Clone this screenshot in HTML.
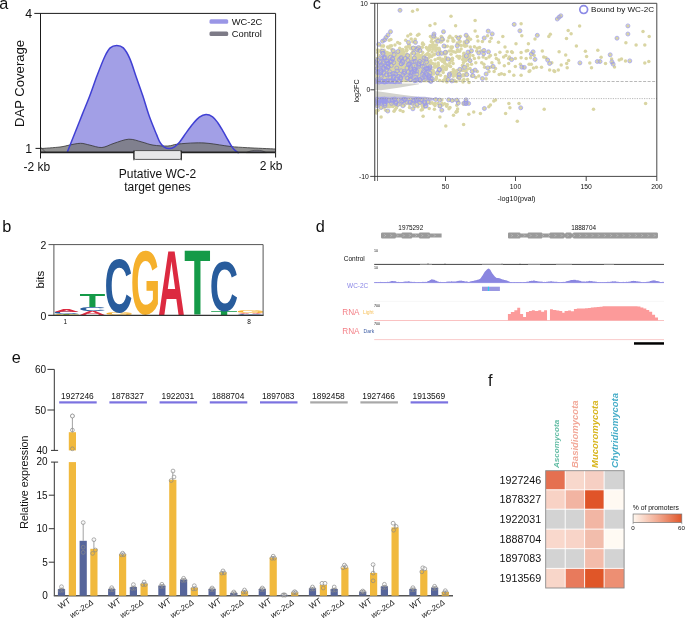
<!DOCTYPE html>
<html><head><meta charset="utf-8"><style>
html,body{margin:0;padding:0;background:#fff;}
svg{display:block;filter:blur(0.3px);font-family:"Liberation Sans", sans-serif;}
</style></head><body>
<svg width="685" height="618" viewBox="0 0 685 618">
<rect width="685" height="618" fill="#fff"/>
<text x="-0.8" y="8.55" font-size="16.3" fill="#111" text-anchor="start" >a</text>
<path d="M67.10,152.60 C68.40,149.33 72.37,139.37 74.90,133.00 C77.43,126.63 79.82,120.60 82.30,114.40 C84.78,108.20 87.32,102.32 89.80,95.80 C92.28,89.28 94.72,81.82 97.20,75.30 C99.68,68.78 102.53,61.27 104.70,56.70 C106.87,52.13 108.20,49.78 110.20,47.90 C112.20,46.02 114.52,45.40 116.70,45.40 C118.88,45.40 121.12,45.70 123.30,47.90 C125.48,50.10 127.63,53.72 129.80,58.60 C131.97,63.48 134.13,71.00 136.30,77.20 C138.47,83.40 140.63,89.28 142.80,95.80 C144.97,102.32 146.98,109.78 149.30,116.30 C151.62,122.82 154.92,130.55 156.70,134.90 C158.48,139.25 158.80,140.42 160.00,142.40 C161.20,144.38 162.37,145.77 163.90,146.80 C165.43,147.83 167.43,148.60 169.20,148.60 C170.97,148.60 172.75,147.90 174.50,146.80 C176.25,145.70 177.73,144.37 179.70,142.00 C181.67,139.63 184.12,135.60 186.30,132.60 C188.48,129.60 190.62,126.58 192.80,124.00 C194.98,121.42 197.20,118.68 199.40,117.10 C201.60,115.52 203.80,114.55 206.00,114.50 C208.20,114.45 210.63,115.43 212.60,116.80 C214.57,118.17 216.05,120.28 217.80,122.70 C219.55,125.12 221.35,128.33 223.10,131.30 C224.85,134.27 226.55,137.55 228.30,140.50 C230.05,143.45 231.85,146.92 233.60,149.00 C235.35,151.08 237.93,152.33 238.80,153.00 Z" fill="#a29fe6"/>
<path d="M40.50,148.60 C43.75,148.33 55.20,147.58 60.00,147.00 C64.80,146.42 65.88,145.72 69.30,145.10 C72.72,144.48 77.08,143.30 80.50,143.30 C83.92,143.30 86.23,144.40 89.80,145.10 C93.37,145.80 97.87,147.80 101.90,147.50 C105.93,147.20 109.52,144.68 114.00,143.30 C118.48,141.92 124.15,139.42 128.80,139.20 C133.45,138.98 137.87,141.02 141.90,142.00 C145.93,142.98 148.67,144.43 153.00,145.10 C157.33,145.77 163.82,146.17 167.90,146.00 C171.98,145.83 172.98,144.62 177.50,144.10 C182.02,143.58 189.75,143.02 195.00,142.90 C200.25,142.78 203.17,142.82 209.00,143.40 C214.83,143.98 223.57,145.68 230.00,146.40 C236.43,147.12 240.00,147.27 247.60,147.70 C255.20,148.13 270.93,148.78 275.60,149.00 L275.6,152.6 L40.5,152.6 Z" fill="rgba(120,120,120,0.8)"/>
<path d="M40.50,148.60 C43.75,148.33 55.20,147.58 60.00,147.00 C64.80,146.42 65.88,145.72 69.30,145.10 C72.72,144.48 77.08,143.30 80.50,143.30 C83.92,143.30 86.23,144.40 89.80,145.10 C93.37,145.80 97.87,147.80 101.90,147.50 C105.93,147.20 109.52,144.68 114.00,143.30 C118.48,141.92 124.15,139.42 128.80,139.20 C133.45,138.98 137.87,141.02 141.90,142.00 C145.93,142.98 148.67,144.43 153.00,145.10 C157.33,145.77 163.82,146.17 167.90,146.00 C171.98,145.83 172.98,144.62 177.50,144.10 C182.02,143.58 189.75,143.02 195.00,142.90 C200.25,142.78 203.17,142.82 209.00,143.40 C214.83,143.98 223.57,145.68 230.00,146.40 C236.43,147.12 240.00,147.27 247.60,147.70 C255.20,148.13 270.93,148.78 275.60,149.00" fill="none" stroke="#333" stroke-width="0.8"/>
<path d="M40.5,147 L46,152.6" stroke="#444" stroke-width="0.7" fill="none"/>
<path d="M246,152.6 C250,151 253,150.3 257,150.3 C261,150.3 263,151 266.2,152.6 Z" fill="#8a88a0" stroke="#333" stroke-width="0.6"/>
<path d="M67.10,152.60 C68.40,149.33 72.37,139.37 74.90,133.00 C77.43,126.63 79.82,120.60 82.30,114.40 C84.78,108.20 87.32,102.32 89.80,95.80 C92.28,89.28 94.72,81.82 97.20,75.30 C99.68,68.78 102.53,61.27 104.70,56.70 C106.87,52.13 108.20,49.78 110.20,47.90 C112.20,46.02 114.52,45.40 116.70,45.40 C118.88,45.40 121.12,45.70 123.30,47.90 C125.48,50.10 127.63,53.72 129.80,58.60 C131.97,63.48 134.13,71.00 136.30,77.20 C138.47,83.40 140.63,89.28 142.80,95.80 C144.97,102.32 146.98,109.78 149.30,116.30 C151.62,122.82 154.92,130.55 156.70,134.90 C158.48,139.25 158.80,140.42 160.00,142.40 C161.20,144.38 162.37,145.77 163.90,146.80 C165.43,147.83 167.43,148.60 169.20,148.60 C170.97,148.60 172.75,147.90 174.50,146.80 C176.25,145.70 177.73,144.37 179.70,142.00 C181.67,139.63 184.12,135.60 186.30,132.60 C188.48,129.60 190.62,126.58 192.80,124.00 C194.98,121.42 197.20,118.68 199.40,117.10 C201.60,115.52 203.80,114.55 206.00,114.50 C208.20,114.45 210.63,115.43 212.60,116.80 C214.57,118.17 216.05,120.28 217.80,122.70 C219.55,125.12 221.35,128.33 223.10,131.30 C224.85,134.27 226.55,137.55 228.30,140.50 C230.05,143.45 231.85,146.92 233.60,149.00 C235.35,151.08 237.93,152.33 238.80,153.00" fill="none" stroke="#4040d4" stroke-width="1.5"/>
<path d="M34.3,13.4 H275.6 V152.6 M40.5,13.4 V158.5 M35.5,148.4 H40.5 M275.6,152.6 V157.5" fill="none" stroke="#1a1a1a" stroke-width="1"/>
<path d="M40.5,152.4 H275.6" stroke="#222" stroke-width="1.6"/>
<text x="25.2" y="17.9" font-size="12.3" fill="#111" text-anchor="start" >4</text>
<text x="25.2" y="152.7" font-size="12.3" fill="#111" text-anchor="start" >1</text>
<text transform="translate(24.4,127.0) rotate(-90)" font-size="13.1" fill="#111">DAP Coverage</text>
<text x="23.5" y="170.6" font-size="12" fill="#111" text-anchor="start" >-2 kb</text>
<text x="259.8" y="170.3" font-size="12" fill="#111" text-anchor="start" >2 kb</text>
<rect x="133.9" y="150.6" width="47.4" height="8.8" rx="1.5" fill="#e8e8e8" stroke="#333" stroke-width="0.8"/>
<path d="M133.9,150.5 V160.3 M181.3,150.5 V160.3" stroke="#222" stroke-width="1"/>
<text x="157.5" y="178.3" font-size="12" fill="#111" text-anchor="middle" >Putative WC-2</text>
<text x="157.5" y="190.6" font-size="12" fill="#111" text-anchor="middle" >target genes</text>
<rect x="209.5" y="19.3" width="18.7" height="4.4" rx="1.5" fill="#9a96e6"/>
<rect x="209.5" y="31.6" width="18.7" height="4.4" rx="1.5" fill="#7d7b87"/>
<text x="231.8" y="24.9" font-size="9.3" fill="#111" text-anchor="start" >WC-2C</text>
<text x="231.8" y="37.2" font-size="9.3" fill="#111" text-anchor="start" >Control</text>
<text x="2.3" y="232.1" font-size="16.3" fill="#111" text-anchor="start" >b</text>
<text transform="matrix(0.41087,0,0,0.00872,53.948,315.200)" font-size="100" font-weight="bold" fill="#159a48">T</text>
<text transform="matrix(0.35852,0,0,0.00989,52.930,314.590)" font-size="100" font-weight="bold" fill="#f5b02c">G</text>
<text transform="matrix(0.37003,0,0,0.03249,52.883,313.868)" font-size="100" font-weight="bold" fill="#285c9c">C</text>
<text transform="matrix(0.36066,0,0,0.03779,53.498,311.600)" font-size="100" font-weight="bold" fill="#dc2a40">A</text>
<text transform="matrix(0.37109,0,0,0.05814,79.072,315.200)" font-size="100" font-weight="bold" fill="#dc2a40">A</text>
<text transform="matrix(0.38073,0,0,0.05367,78.439,311.146)" font-size="100" font-weight="bold" fill="#285c9c">C</text>
<text transform="matrix(0.42275,0,0,0.19041,79.535,307.200)" font-size="100" font-weight="bold" fill="#159a48">T</text>
<text transform="matrix(0.37481,0,0,0.02966,104.663,315.170)" font-size="100" font-weight="bold" fill="#f5b02c">G</text>
<text transform="matrix(0.38685,0,0,0.75565,104.614,312.144)" font-size="100" font-weight="bold" fill="#285c9c">C</text>
<text transform="matrix(0.37926,0,0,0.90678,130.645,314.093)" font-size="100" font-weight="bold" fill="#f5b02c">G</text>
<text transform="matrix(0.37258,0,0,0.93605,157.969,315.200)" font-size="100" font-weight="bold" fill="#dc2a40">A</text>
<text transform="matrix(0.42954,0,0,0.93605,184.328,315.200)" font-size="100" font-weight="bold" fill="#159a48">T</text>
<text transform="matrix(0.43633,0,0,0.04651,210.820,315.200)" font-size="100" font-weight="bold" fill="#159a48">T</text>
<text transform="matrix(0.39297,0,0,0.71186,209.689,310.988)" font-size="100" font-weight="bold" fill="#285c9c">C</text>
<text transform="matrix(0.38838,0,0,0.01412,236.008,315.186)" font-size="100" font-weight="bold" fill="#285c9c">C</text>
<text transform="matrix(0.37854,0,0,0.01308,236.654,314.200)" font-size="100" font-weight="bold" fill="#dc2a40">A</text>
<text transform="matrix(0.37630,0,0,0.03814,236.057,313.262)" font-size="100" font-weight="bold" fill="#f5b02c">G</text>
<path d="M48.5,244.6 H263.1 V315.3 M53.9,244.6 V315.3" fill="none" stroke="#555" stroke-width="1"/>
<path d="M48.2,315.4 H263.6" fill="none" stroke="#333" stroke-width="1.2"/>
<text x="40.6" y="249" font-size="10.5" fill="#111" text-anchor="start" >2</text>
<text x="40.6" y="319.8" font-size="10.5" fill="#111" text-anchor="start" >0</text>
<text transform="translate(43.6,288.6) rotate(-90)" font-size="11.5" fill="#111">bits</text>
<text x="63.5" y="324" font-size="6.5" fill="#111" text-anchor="start" >1</text>
<text x="247.3" y="324.4" font-size="6.5" fill="#111" text-anchor="start" >8</text>
<text x="312.65" y="8.65" font-size="16.3" fill="#111" text-anchor="start" >c</text>
<path d="M375.2,83.6 L419,83.6 L419,84.3 L400,87.4 L381,90.2 L375.2,90.3 Z" fill="#d3d3ce"/><path d="M375.2,81.4 L402,81.4 L402,84 L375.2,84 Z" fill="#b3b1e6"/>
<path d="M375.2,90.9 L381,91.7 L400,94.5 L417.5,96.8 L417.5,97.2 L375.2,97.2 Z" fill="#d3d3ce"/>
<path d="M375.5,82.2 L375.5,57 L400,56 L425,57 L432,62 L432,82.2 Z" fill="#d9d5a3"/>
<path d="M375.2,96.8 L425,96.8 L440,99 L425,102 L400,103 L375.2,103 Z" fill="#b9b6dc"/>
<g fill="#d9d5a3"><circle cx="387.9" cy="79.3" r="1.75"/><circle cx="430.9" cy="81.4" r="1.75"/><circle cx="406.1" cy="76.4" r="1.75"/><circle cx="393.9" cy="79.6" r="1.75"/><circle cx="423.9" cy="64.4" r="1.75"/><circle cx="380.6" cy="66.9" r="1.75"/><circle cx="406.8" cy="75.7" r="1.75"/><circle cx="403.3" cy="55.8" r="1.75"/><circle cx="421.3" cy="56.7" r="1.75"/><circle cx="420.8" cy="59.7" r="1.75"/><circle cx="394.8" cy="76.3" r="1.75"/><circle cx="383.9" cy="59.0" r="1.75"/><circle cx="404.9" cy="74.5" r="1.75"/><circle cx="423.0" cy="73.6" r="1.75"/><circle cx="429.0" cy="68.3" r="1.75"/><circle cx="429.2" cy="57.3" r="1.75"/><circle cx="388.4" cy="69.2" r="1.75"/><circle cx="392.2" cy="74.7" r="1.75"/><circle cx="411.8" cy="69.1" r="1.75"/><circle cx="423.2" cy="70.1" r="1.75"/><circle cx="393.5" cy="65.3" r="1.75"/><circle cx="423.3" cy="79.3" r="1.75"/><circle cx="387.7" cy="78.0" r="1.75"/><circle cx="430.2" cy="69.2" r="1.75"/><circle cx="408.1" cy="60.4" r="1.75"/><circle cx="406.0" cy="68.6" r="1.75"/><circle cx="409.9" cy="55.7" r="1.75"/><circle cx="430.3" cy="68.9" r="1.75"/><circle cx="398.4" cy="76.6" r="1.75"/><circle cx="407.5" cy="68.3" r="1.75"/><circle cx="414.7" cy="56.8" r="1.75"/><circle cx="406.2" cy="66.2" r="1.75"/><circle cx="429.6" cy="79.9" r="1.75"/><circle cx="391.1" cy="67.8" r="1.75"/><circle cx="383.1" cy="66.7" r="1.75"/><circle cx="421.7" cy="79.3" r="1.75"/><circle cx="402.7" cy="63.6" r="1.75"/><circle cx="386.7" cy="71.7" r="1.75"/><circle cx="427.8" cy="58.5" r="1.75"/><circle cx="419.6" cy="55.6" r="1.75"/><circle cx="387.9" cy="55.3" r="1.75"/><circle cx="395.0" cy="44.9" r="1.75"/><circle cx="396.9" cy="54.3" r="1.75"/><circle cx="417.9" cy="54.4" r="1.75"/><circle cx="383.9" cy="50.9" r="1.75"/><circle cx="388.1" cy="56.6" r="1.75"/><circle cx="406.7" cy="49.8" r="1.75"/><circle cx="400.2" cy="54.0" r="1.75"/><circle cx="406.6" cy="54.1" r="1.75"/><circle cx="412.4" cy="52.4" r="1.75"/><circle cx="412.8" cy="41.7" r="1.75"/><circle cx="411.3" cy="54.1" r="1.75"/><circle cx="425.0" cy="55.6" r="1.75"/><circle cx="422.4" cy="43.9" r="1.75"/><circle cx="427.5" cy="54.2" r="1.75"/><circle cx="428.7" cy="50.6" r="1.75"/><circle cx="389.2" cy="40.3" r="1.75"/><circle cx="384.5" cy="56.8" r="1.75"/><circle cx="390.4" cy="56.1" r="1.75"/><circle cx="382.4" cy="50.9" r="1.75"/><circle cx="423.6" cy="44.5" r="1.75"/><circle cx="384.1" cy="50.3" r="1.75"/><circle cx="399.6" cy="56.4" r="1.75"/><circle cx="388.3" cy="55.6" r="1.75"/><circle cx="415.2" cy="39.2" r="1.75"/><circle cx="383.5" cy="45.9" r="1.75"/><circle cx="405.3" cy="56.5" r="1.75"/><circle cx="415.4" cy="47.6" r="1.75"/><circle cx="387.6" cy="53.6" r="1.75"/><circle cx="379.1" cy="55.4" r="1.75"/><circle cx="407.9" cy="46.7" r="1.75"/><circle cx="385.2" cy="56.0" r="1.75"/><circle cx="387.3" cy="52.6" r="1.75"/><circle cx="432.5" cy="42.3" r="1.75"/><circle cx="428.9" cy="54.6" r="1.75"/><circle cx="430.3" cy="55.4" r="1.75"/><circle cx="402.9" cy="56.3" r="1.75"/><circle cx="403.1" cy="49.9" r="1.75"/><circle cx="405.9" cy="47.2" r="1.75"/><circle cx="377.7" cy="52.4" r="1.75"/><circle cx="416.3" cy="54.2" r="1.75"/><circle cx="402.4" cy="52.8" r="1.75"/><circle cx="418.4" cy="52.6" r="1.75"/><circle cx="386.2" cy="54.0" r="1.75"/><circle cx="405.7" cy="40.2" r="1.75"/><circle cx="421.9" cy="55.4" r="1.75"/><circle cx="416.5" cy="49.8" r="1.75"/><circle cx="399.7" cy="48.3" r="1.75"/><circle cx="410.6" cy="34.2" r="1.75"/><circle cx="422.1" cy="56.4" r="1.75"/><circle cx="391.5" cy="45.8" r="1.75"/><circle cx="420.6" cy="50.0" r="1.75"/><circle cx="422.6" cy="42.9" r="1.75"/><circle cx="426.3" cy="47.5" r="1.75"/><circle cx="415.9" cy="55.5" r="1.75"/><circle cx="399.7" cy="43.5" r="1.75"/><circle cx="417.5" cy="50.4" r="1.75"/><circle cx="403.3" cy="53.9" r="1.75"/><circle cx="377.6" cy="50.0" r="1.75"/><circle cx="411.9" cy="48.0" r="1.75"/><circle cx="390.0" cy="45.9" r="1.75"/><circle cx="395.9" cy="53.0" r="1.75"/><circle cx="413.9" cy="48.1" r="1.75"/><circle cx="398.8" cy="52.8" r="1.75"/><circle cx="433.0" cy="49.2" r="1.75"/><circle cx="419.7" cy="47.3" r="1.75"/><circle cx="431.9" cy="46.1" r="1.75"/><circle cx="418.4" cy="55.4" r="1.75"/><circle cx="391.4" cy="54.9" r="1.75"/><circle cx="387.9" cy="55.5" r="1.75"/><circle cx="398.0" cy="52.0" r="1.75"/><circle cx="427.7" cy="53.5" r="1.75"/><circle cx="407.8" cy="36.1" r="1.75"/><circle cx="408.8" cy="56.0" r="1.75"/><circle cx="432.7" cy="47.6" r="1.75"/><circle cx="381.3" cy="45.9" r="1.75"/><circle cx="410.5" cy="56.9" r="1.75"/><circle cx="429.1" cy="54.6" r="1.75"/><circle cx="386.0" cy="52.2" r="1.75"/><circle cx="404.7" cy="56.1" r="1.75"/><circle cx="411.2" cy="39.0" r="1.75"/><circle cx="400.6" cy="50.1" r="1.75"/><circle cx="406.5" cy="50.8" r="1.75"/><circle cx="393.0" cy="52.6" r="1.75"/><circle cx="413.7" cy="50.9" r="1.75"/><circle cx="417.1" cy="54.6" r="1.75"/><circle cx="393.6" cy="51.0" r="1.75"/><circle cx="379.4" cy="56.5" r="1.75"/><circle cx="385.8" cy="56.8" r="1.75"/><circle cx="427.3" cy="49.0" r="1.75"/><circle cx="418.9" cy="34.2" r="1.75"/><circle cx="429.9" cy="49.6" r="1.75"/><circle cx="381.1" cy="50.0" r="1.75"/><circle cx="403.7" cy="52.3" r="1.75"/><circle cx="431.5" cy="56.6" r="1.75"/><circle cx="429.5" cy="47.3" r="1.75"/><circle cx="417.5" cy="35.2" r="1.75"/><circle cx="422.7" cy="52.6" r="1.75"/><circle cx="410.8" cy="48.6" r="1.75"/><circle cx="402.5" cy="49.6" r="1.75"/><circle cx="388.4" cy="47.7" r="1.75"/><circle cx="384.0" cy="53.9" r="1.75"/><circle cx="401.8" cy="52.6" r="1.75"/><circle cx="391.7" cy="49.3" r="1.75"/><circle cx="409.6" cy="44.9" r="1.75"/><circle cx="406.7" cy="50.3" r="1.75"/><circle cx="432.9" cy="44.5" r="1.75"/><circle cx="390.4" cy="53.2" r="1.75"/><circle cx="383.4" cy="46.1" r="1.75"/><circle cx="412.0" cy="48.3" r="1.75"/><circle cx="397.1" cy="55.4" r="1.75"/><circle cx="408.6" cy="45.0" r="1.75"/><circle cx="410.1" cy="48.0" r="1.75"/><circle cx="387.6" cy="47.1" r="1.75"/><circle cx="390.9" cy="39.4" r="1.75"/><circle cx="426.2" cy="54.7" r="1.75"/><circle cx="379.2" cy="51.1" r="1.75"/><circle cx="400.8" cy="54.6" r="1.75"/><circle cx="411.9" cy="49.0" r="1.75"/><circle cx="381.1" cy="51.0" r="1.75"/><circle cx="381.8" cy="52.5" r="1.75"/><circle cx="412.3" cy="47.9" r="1.75"/><circle cx="397.9" cy="51.5" r="1.75"/><circle cx="396.2" cy="56.3" r="1.75"/><circle cx="418.7" cy="55.3" r="1.75"/><circle cx="383.7" cy="54.3" r="1.75"/><circle cx="422.3" cy="47.2" r="1.75"/><circle cx="388.9" cy="47.4" r="1.75"/><circle cx="400.8" cy="56.3" r="1.75"/><circle cx="397.7" cy="42.4" r="1.75"/><circle cx="445.0" cy="78.5" r="1.75"/><circle cx="459.1" cy="58.2" r="1.75"/><circle cx="467.7" cy="39.2" r="1.75"/><circle cx="467.4" cy="64.5" r="1.75"/><circle cx="462.9" cy="70.6" r="1.75"/><circle cx="443.0" cy="66.3" r="1.75"/><circle cx="468.3" cy="41.6" r="1.75"/><circle cx="440.2" cy="68.1" r="1.75"/><circle cx="445.0" cy="68.0" r="1.75"/><circle cx="446.2" cy="66.9" r="1.75"/><circle cx="438.0" cy="58.4" r="1.75"/><circle cx="462.7" cy="59.6" r="1.75"/><circle cx="464.3" cy="58.5" r="1.75"/><circle cx="437.2" cy="48.6" r="1.75"/><circle cx="466.1" cy="71.7" r="1.75"/><circle cx="430.9" cy="60.8" r="1.75"/><circle cx="452.3" cy="58.3" r="1.75"/><circle cx="469.6" cy="54.1" r="1.75"/><circle cx="463.0" cy="80.5" r="1.75"/><circle cx="452.4" cy="47.1" r="1.75"/><circle cx="433.4" cy="79.9" r="1.75"/><circle cx="460.2" cy="41.4" r="1.75"/><circle cx="433.5" cy="55.0" r="1.75"/><circle cx="435.9" cy="49.3" r="1.75"/><circle cx="456.6" cy="73.3" r="1.75"/><circle cx="439.0" cy="48.3" r="1.75"/><circle cx="451.4" cy="48.3" r="1.75"/><circle cx="446.2" cy="69.2" r="1.75"/><circle cx="469.7" cy="53.0" r="1.75"/><circle cx="450.2" cy="59.7" r="1.75"/><circle cx="459.6" cy="51.2" r="1.75"/><circle cx="467.5" cy="65.8" r="1.75"/><circle cx="463.9" cy="53.3" r="1.75"/><circle cx="465.0" cy="46.2" r="1.75"/><circle cx="464.2" cy="41.9" r="1.75"/><circle cx="469.3" cy="54.7" r="1.75"/><circle cx="451.5" cy="51.1" r="1.75"/><circle cx="462.9" cy="65.3" r="1.75"/><circle cx="447.2" cy="77.4" r="1.75"/><circle cx="460.4" cy="36.5" r="1.75"/><circle cx="445.4" cy="76.5" r="1.75"/><circle cx="438.4" cy="65.1" r="1.75"/><circle cx="442.0" cy="37.6" r="1.75"/><circle cx="432.4" cy="70.5" r="1.75"/><circle cx="434.7" cy="54.3" r="1.75"/><circle cx="461.8" cy="76.1" r="1.75"/><circle cx="432.6" cy="63.5" r="1.75"/><circle cx="453.9" cy="40.8" r="1.75"/><circle cx="431.5" cy="78.9" r="1.75"/><circle cx="437.6" cy="74.5" r="1.75"/><circle cx="439.7" cy="50.8" r="1.75"/><circle cx="454.4" cy="74.2" r="1.75"/><circle cx="437.6" cy="71.7" r="1.75"/><circle cx="437.1" cy="48.7" r="1.75"/><circle cx="442.8" cy="59.2" r="1.75"/><circle cx="463.5" cy="62.5" r="1.75"/><circle cx="440.7" cy="42.0" r="1.75"/><circle cx="467.5" cy="69.0" r="1.75"/><circle cx="452.4" cy="38.3" r="1.75"/><circle cx="449.8" cy="74.3" r="1.75"/><circle cx="432.0" cy="38.8" r="1.75"/><circle cx="462.9" cy="67.0" r="1.75"/><circle cx="451.6" cy="60.8" r="1.75"/><circle cx="441.3" cy="36.5" r="1.75"/><circle cx="457.0" cy="73.6" r="1.75"/><circle cx="430.4" cy="62.9" r="1.75"/><circle cx="445.2" cy="46.7" r="1.75"/><circle cx="459.2" cy="56.4" r="1.75"/><circle cx="436.4" cy="77.0" r="1.75"/><circle cx="443.2" cy="72.6" r="1.75"/><circle cx="465.6" cy="60.8" r="1.75"/><circle cx="456.1" cy="36.4" r="1.75"/><circle cx="440.9" cy="59.9" r="1.75"/><circle cx="436.2" cy="48.1" r="1.75"/><circle cx="430.1" cy="45.4" r="1.75"/><circle cx="464.7" cy="45.4" r="1.75"/><circle cx="433.4" cy="72.2" r="1.75"/><circle cx="459.4" cy="79.3" r="1.75"/><circle cx="449.7" cy="63.0" r="1.75"/><circle cx="469.2" cy="57.3" r="1.75"/><circle cx="465.2" cy="70.7" r="1.75"/><circle cx="462.4" cy="65.5" r="1.75"/><circle cx="467.6" cy="79.5" r="1.75"/><circle cx="463.9" cy="74.8" r="1.75"/><circle cx="452.3" cy="60.3" r="1.75"/><circle cx="436.5" cy="44.9" r="1.75"/><circle cx="442.8" cy="70.4" r="1.75"/><circle cx="433.1" cy="70.6" r="1.75"/><circle cx="449.2" cy="50.9" r="1.75"/><circle cx="444.7" cy="52.3" r="1.75"/><circle cx="434.3" cy="66.6" r="1.75"/><circle cx="448.9" cy="37.8" r="1.75"/><circle cx="464.0" cy="54.0" r="1.75"/><circle cx="430.5" cy="67.3" r="1.75"/><circle cx="459.1" cy="73.6" r="1.75"/><circle cx="453.1" cy="63.6" r="1.75"/><circle cx="430.4" cy="36.4" r="1.75"/><circle cx="462.8" cy="74.9" r="1.75"/><circle cx="455.3" cy="71.3" r="1.75"/><circle cx="445.4" cy="59.6" r="1.75"/><circle cx="442.2" cy="69.2" r="1.75"/><circle cx="446.1" cy="53.3" r="1.75"/><circle cx="440.5" cy="75.2" r="1.75"/><circle cx="460.0" cy="69.5" r="1.75"/><circle cx="468.7" cy="58.5" r="1.75"/><circle cx="459.7" cy="69.4" r="1.75"/><circle cx="463.9" cy="79.5" r="1.75"/><circle cx="435.8" cy="79.4" r="1.75"/><circle cx="457.8" cy="51.2" r="1.75"/><circle cx="437.4" cy="66.2" r="1.75"/><circle cx="464.3" cy="57.0" r="1.75"/><circle cx="433.7" cy="74.1" r="1.75"/><circle cx="436.4" cy="78.3" r="1.75"/><circle cx="446.7" cy="80.2" r="1.75"/><circle cx="467.7" cy="65.0" r="1.75"/><circle cx="451.0" cy="54.3" r="1.75"/><circle cx="461.4" cy="45.4" r="1.75"/><circle cx="445.8" cy="69.4" r="1.75"/><circle cx="446.9" cy="82.1" r="1.75"/><circle cx="446.4" cy="51.7" r="1.75"/><circle cx="470.3" cy="47.1" r="1.75"/><circle cx="457.1" cy="56.2" r="1.75"/><circle cx="430.8" cy="69.5" r="1.75"/><circle cx="444.0" cy="54.1" r="1.75"/><circle cx="434.4" cy="67.3" r="1.75"/><circle cx="450.9" cy="47.1" r="1.75"/><circle cx="463.8" cy="56.1" r="1.75"/><circle cx="436.5" cy="48.3" r="1.75"/><circle cx="467.0" cy="59.2" r="1.75"/><circle cx="444.5" cy="61.5" r="1.75"/><circle cx="435.8" cy="51.0" r="1.75"/><circle cx="470.5" cy="60.8" r="1.75"/><circle cx="459.3" cy="44.7" r="1.75"/><circle cx="438.1" cy="38.9" r="1.75"/><circle cx="455.7" cy="75.3" r="1.75"/><circle cx="433.4" cy="73.3" r="1.75"/><circle cx="453.6" cy="51.8" r="1.75"/><circle cx="443.5" cy="39.8" r="1.75"/><circle cx="444.8" cy="63.3" r="1.75"/><circle cx="435.1" cy="37.4" r="1.75"/><circle cx="435.6" cy="41.1" r="1.75"/><circle cx="452.3" cy="58.6" r="1.75"/><circle cx="453.0" cy="72.4" r="1.75"/><circle cx="467.3" cy="36.4" r="1.75"/><circle cx="463.5" cy="56.6" r="1.75"/><circle cx="435.0" cy="45.2" r="1.75"/><circle cx="441.8" cy="41.5" r="1.75"/><circle cx="439.9" cy="58.0" r="1.75"/><circle cx="464.1" cy="75.8" r="1.75"/><circle cx="452.5" cy="80.1" r="1.75"/><circle cx="431.3" cy="76.0" r="1.75"/><circle cx="470.5" cy="39.2" r="1.75"/><circle cx="457.0" cy="70.5" r="1.75"/><circle cx="457.5" cy="49.7" r="1.75"/><circle cx="445.6" cy="57.1" r="1.75"/><circle cx="463.0" cy="82.1" r="1.75"/><circle cx="438.2" cy="63.1" r="1.75"/><circle cx="435.9" cy="66.9" r="1.75"/><circle cx="453.4" cy="76.3" r="1.75"/><circle cx="451.3" cy="72.5" r="1.75"/><circle cx="453.3" cy="69.4" r="1.75"/><circle cx="456.3" cy="81.4" r="1.75"/><circle cx="457.5" cy="77.5" r="1.75"/><circle cx="469.3" cy="56.7" r="1.75"/><circle cx="449.3" cy="65.8" r="1.75"/><circle cx="455.6" cy="52.2" r="1.75"/><circle cx="461.1" cy="49.0" r="1.75"/><circle cx="449.9" cy="36.3" r="1.75"/><circle cx="464.4" cy="43.7" r="1.75"/><circle cx="446.8" cy="64.7" r="1.75"/><circle cx="453.2" cy="41.0" r="1.75"/><circle cx="451.6" cy="60.3" r="1.75"/><circle cx="447.7" cy="41.1" r="1.75"/><circle cx="443.1" cy="80.9" r="1.75"/><circle cx="459.7" cy="41.3" r="1.75"/><circle cx="460.0" cy="56.8" r="1.75"/><circle cx="460.8" cy="70.6" r="1.75"/><circle cx="454.3" cy="80.3" r="1.75"/><circle cx="435.1" cy="64.1" r="1.75"/><circle cx="450.6" cy="66.4" r="1.75"/><circle cx="432.1" cy="51.9" r="1.75"/><circle cx="451.6" cy="73.5" r="1.75"/><circle cx="442.6" cy="66.5" r="1.75"/><circle cx="439.7" cy="80.4" r="1.75"/><circle cx="467.4" cy="37.8" r="1.75"/><circle cx="457.3" cy="43.1" r="1.75"/><circle cx="447.3" cy="46.3" r="1.75"/><circle cx="439.1" cy="49.3" r="1.75"/><circle cx="453.2" cy="41.1" r="1.75"/><circle cx="434.0" cy="46.9" r="1.75"/><circle cx="435.1" cy="59.7" r="1.75"/><circle cx="469.0" cy="82.5" r="1.75"/><circle cx="440.0" cy="70.9" r="1.75"/><circle cx="443.3" cy="80.6" r="1.75"/><circle cx="466.7" cy="45.7" r="1.75"/><circle cx="446.3" cy="68.3" r="1.75"/><circle cx="454.0" cy="81.2" r="1.75"/><circle cx="431.3" cy="41.4" r="1.75"/><circle cx="442.6" cy="61.6" r="1.75"/><circle cx="468.3" cy="37.2" r="1.75"/><circle cx="475.1" cy="20.4" r="1.75"/><circle cx="475.1" cy="30.9" r="1.75"/><circle cx="477.3" cy="36.5" r="1.75"/><circle cx="478.0" cy="40.9" r="1.75"/><circle cx="482.4" cy="41.6" r="1.75"/><circle cx="489.7" cy="41.6" r="1.75"/><circle cx="491.2" cy="38.2" r="1.75"/><circle cx="487.5" cy="35.8" r="1.75"/><circle cx="498.5" cy="42.3" r="1.75"/><circle cx="502.8" cy="36.5" r="1.75"/><circle cx="505.0" cy="47.0" r="1.75"/><circle cx="516.0" cy="43.8" r="1.75"/><circle cx="521.1" cy="23.8" r="1.75"/><circle cx="521.8" cy="35.8" r="1.75"/><circle cx="528.4" cy="43.8" r="1.75"/><circle cx="535.0" cy="39.1" r="1.75"/><circle cx="548.8" cy="36.5" r="1.75"/><circle cx="550.3" cy="34.3" r="1.75"/><circle cx="474.4" cy="46.7" r="1.75"/><circle cx="477.3" cy="48.2" r="1.75"/><circle cx="479.5" cy="47.4" r="1.75"/><circle cx="476.6" cy="51.1" r="1.75"/><circle cx="480.9" cy="51.1" r="1.75"/><circle cx="490.4" cy="55.5" r="1.75"/><circle cx="495.5" cy="54.7" r="1.75"/><circle cx="499.9" cy="52.3" r="1.75"/><circle cx="507.2" cy="51.8" r="1.75"/><circle cx="511.6" cy="51.8" r="1.75"/><circle cx="512.3" cy="52.6" r="1.75"/><circle cx="521.1" cy="52.6" r="1.75"/><circle cx="526.2" cy="51.1" r="1.75"/><circle cx="527.7" cy="50.4" r="1.75"/><circle cx="542.3" cy="51.1" r="1.75"/><circle cx="559.1" cy="51.8" r="1.75"/><circle cx="472.9" cy="55.5" r="1.75"/><circle cx="474.4" cy="58.4" r="1.75"/><circle cx="478.8" cy="57.7" r="1.75"/><circle cx="483.1" cy="56.9" r="1.75"/><circle cx="486.1" cy="58.4" r="1.75"/><circle cx="489.0" cy="56.9" r="1.75"/><circle cx="491.9" cy="62.8" r="1.75"/><circle cx="496.3" cy="58.4" r="1.75"/><circle cx="498.5" cy="59.9" r="1.75"/><circle cx="503.6" cy="56.9" r="1.75"/><circle cx="505.8" cy="55.5" r="1.75"/><circle cx="508.7" cy="58.4" r="1.75"/><circle cx="509.4" cy="56.9" r="1.75"/><circle cx="515.3" cy="58.4" r="1.75"/><circle cx="521.1" cy="57.7" r="1.75"/><circle cx="526.2" cy="58.4" r="1.75"/><circle cx="530.6" cy="57.7" r="1.75"/><circle cx="534.2" cy="55.5" r="1.75"/><circle cx="543.7" cy="56.9" r="1.75"/><circle cx="545.9" cy="57.7" r="1.75"/><circle cx="471.5" cy="64.2" r="1.75"/><circle cx="475.8" cy="62.8" r="1.75"/><circle cx="481.7" cy="62.8" r="1.75"/><circle cx="483.9" cy="64.2" r="1.75"/><circle cx="490.4" cy="67.2" r="1.75"/><circle cx="495.5" cy="68.6" r="1.75"/><circle cx="499.2" cy="62.8" r="1.75"/><circle cx="504.3" cy="65.7" r="1.75"/><circle cx="508.7" cy="63.5" r="1.75"/><circle cx="515.3" cy="66.4" r="1.75"/><circle cx="520.4" cy="64.2" r="1.75"/><circle cx="529.1" cy="64.2" r="1.75"/><circle cx="531.3" cy="64.2" r="1.75"/><circle cx="533.5" cy="67.9" r="1.75"/><circle cx="536.4" cy="67.2" r="1.75"/><circle cx="541.5" cy="67.2" r="1.75"/><circle cx="551.8" cy="62.8" r="1.75"/><circle cx="561.2" cy="65.0" r="1.75"/><circle cx="470.0" cy="68.6" r="1.75"/><circle cx="477.3" cy="71.5" r="1.75"/><circle cx="478.8" cy="75.9" r="1.75"/><circle cx="484.6" cy="67.2" r="1.75"/><circle cx="489.0" cy="71.5" r="1.75"/><circle cx="494.1" cy="71.5" r="1.75"/><circle cx="499.2" cy="74.5" r="1.75"/><circle cx="501.4" cy="73.7" r="1.75"/><circle cx="504.3" cy="74.5" r="1.75"/><circle cx="509.4" cy="71.5" r="1.75"/><circle cx="513.8" cy="75.2" r="1.75"/><circle cx="521.1" cy="75.2" r="1.75"/><circle cx="529.1" cy="71.5" r="1.75"/><circle cx="529.9" cy="70.8" r="1.75"/><circle cx="549.6" cy="70.1" r="1.75"/><circle cx="553.9" cy="70.8" r="1.75"/><circle cx="554.7" cy="71.5" r="1.75"/><circle cx="558.3" cy="70.1" r="1.75"/><circle cx="471.5" cy="75.9" r="1.75"/><circle cx="475.8" cy="77.4" r="1.75"/><circle cx="486.1" cy="78.8" r="1.75"/><circle cx="579.6" cy="25.9" r="1.75"/><circle cx="568.2" cy="30.6" r="1.75"/><circle cx="571.1" cy="33.8" r="1.75"/><circle cx="566.5" cy="38.6" r="1.75"/><circle cx="576.4" cy="46.0" r="1.75"/><circle cx="585.4" cy="51.3" r="1.75"/><circle cx="586.6" cy="56.5" r="1.75"/><circle cx="597.8" cy="50.3" r="1.75"/><circle cx="601.1" cy="57.3" r="1.75"/><circle cx="565.7" cy="55.1" r="1.75"/><circle cx="568.6" cy="60.5" r="1.75"/><circle cx="566.7" cy="63.4" r="1.75"/><circle cx="567.2" cy="67.8" r="1.75"/><circle cx="589.8" cy="62.9" r="1.75"/><circle cx="591.5" cy="67.8" r="1.75"/><circle cx="605.5" cy="63.4" r="1.75"/><circle cx="611.6" cy="59.0" r="1.75"/><circle cx="614.5" cy="67.0" r="1.75"/><circle cx="619.2" cy="60.0" r="1.75"/><circle cx="621.5" cy="59.0" r="1.75"/><circle cx="625.5" cy="60.9" r="1.75"/><circle cx="625.9" cy="42.7" r="1.75"/><circle cx="636.1" cy="44.9" r="1.75"/><circle cx="643.0" cy="31.5" r="1.75"/><circle cx="649.2" cy="36.4" r="1.75"/><circle cx="644.8" cy="44.9" r="1.75"/><circle cx="644.8" cy="63.1" r="1.75"/><circle cx="648.8" cy="61.5" r="1.75"/><circle cx="412.6" cy="11.2" r="1.75"/><circle cx="417.4" cy="9.7" r="1.75"/><circle cx="451.0" cy="16.3" r="1.75"/><circle cx="455.6" cy="25.7" r="1.75"/><circle cx="430.0" cy="25.5" r="1.75"/><circle cx="435.0" cy="23.7" r="1.75"/><circle cx="377.0" cy="104.4" r="1.75"/><circle cx="442.2" cy="104.7" r="1.75"/><circle cx="390.2" cy="105.4" r="1.75"/><circle cx="385.7" cy="110.3" r="1.75"/><circle cx="422.7" cy="106.4" r="1.75"/><circle cx="457.1" cy="111.4" r="1.75"/><circle cx="386.7" cy="101.1" r="1.75"/><circle cx="398.3" cy="101.3" r="1.75"/><circle cx="395.9" cy="104.5" r="1.75"/><circle cx="391.9" cy="101.5" r="1.75"/><circle cx="403.5" cy="100.1" r="1.75"/><circle cx="396.6" cy="102.7" r="1.75"/><circle cx="401.8" cy="103.6" r="1.75"/><circle cx="387.0" cy="106.5" r="1.75"/><circle cx="379.9" cy="102.6" r="1.75"/><circle cx="382.5" cy="104.3" r="1.75"/><circle cx="411.0" cy="101.6" r="1.75"/><circle cx="424.2" cy="106.2" r="1.75"/><circle cx="376.9" cy="103.6" r="1.75"/><circle cx="378.6" cy="102.8" r="1.75"/><circle cx="396.7" cy="105.6" r="1.75"/><circle cx="411.3" cy="101.7" r="1.75"/><circle cx="401.3" cy="101.4" r="1.75"/><circle cx="377.0" cy="103.2" r="1.75"/><circle cx="393.1" cy="105.0" r="1.75"/><circle cx="388.1" cy="104.0" r="1.75"/><circle cx="420.1" cy="101.9" r="1.75"/><circle cx="414.2" cy="105.2" r="1.75"/><circle cx="394.0" cy="111.2" r="1.75"/><circle cx="435.0" cy="105.6" r="1.75"/><circle cx="415.5" cy="103.6" r="1.75"/><circle cx="397.5" cy="103.4" r="1.75"/><circle cx="388.9" cy="104.9" r="1.75"/><circle cx="395.2" cy="109.4" r="1.75"/><circle cx="377.6" cy="103.8" r="1.75"/><circle cx="390.8" cy="104.4" r="1.75"/><circle cx="393.9" cy="102.6" r="1.75"/><circle cx="384.6" cy="100.0" r="1.75"/><circle cx="386.4" cy="101.2" r="1.75"/><circle cx="376.0" cy="103.1" r="1.75"/><circle cx="407.4" cy="102.7" r="1.75"/><circle cx="403.2" cy="102.0" r="1.75"/><circle cx="418.0" cy="106.8" r="1.75"/><circle cx="408.9" cy="101.8" r="1.75"/><circle cx="447.1" cy="104.4" r="1.75"/><circle cx="393.0" cy="100.5" r="1.75"/><circle cx="463.0" cy="102.9" r="1.75"/><circle cx="423.5" cy="107.5" r="1.75"/><circle cx="422.4" cy="109.5" r="1.75"/><circle cx="382.9" cy="101.8" r="1.75"/><circle cx="414.9" cy="106.6" r="1.75"/><circle cx="394.5" cy="99.9" r="1.75"/><circle cx="389.5" cy="99.5" r="1.75"/><circle cx="386.8" cy="106.3" r="1.75"/><circle cx="387.5" cy="101.1" r="1.75"/><circle cx="404.8" cy="102.6" r="1.75"/><circle cx="381.4" cy="101.4" r="1.75"/><circle cx="380.3" cy="100.3" r="1.75"/><circle cx="424.8" cy="104.1" r="1.75"/><circle cx="435.2" cy="103.4" r="1.75"/><circle cx="402.2" cy="105.3" r="1.75"/><circle cx="457.6" cy="108.9" r="1.75"/><circle cx="378.2" cy="99.7" r="1.75"/><circle cx="439.7" cy="106.0" r="1.75"/><circle cx="395.9" cy="100.4" r="1.75"/><circle cx="426.3" cy="103.6" r="1.75"/><circle cx="391.8" cy="104.2" r="1.75"/><circle cx="450.0" cy="107.5" r="1.75"/><circle cx="446.5" cy="104.7" r="1.75"/><circle cx="425.1" cy="101.9" r="1.75"/><circle cx="415.0" cy="104.3" r="1.75"/><circle cx="381.4" cy="108.1" r="1.75"/><circle cx="394.9" cy="101.4" r="1.75"/><circle cx="384.2" cy="103.0" r="1.75"/><circle cx="376.6" cy="110.7" r="1.75"/><circle cx="381.7" cy="106.2" r="1.75"/><circle cx="422.5" cy="106.3" r="1.75"/><circle cx="396.2" cy="103.3" r="1.75"/><circle cx="378.0" cy="100.1" r="1.75"/><circle cx="377.7" cy="102.2" r="1.75"/><circle cx="389.5" cy="101.6" r="1.75"/><circle cx="381.1" cy="116.9" r="1.75"/><circle cx="392.0" cy="106.3" r="1.75"/><circle cx="402.4" cy="100.6" r="1.75"/><circle cx="394.7" cy="103.1" r="1.75"/><circle cx="449.0" cy="108.7" r="1.75"/><circle cx="389.3" cy="105.4" r="1.75"/><circle cx="434.0" cy="104.3" r="1.75"/><circle cx="395.7" cy="101.9" r="1.75"/><circle cx="440.4" cy="106.0" r="1.75"/><circle cx="382.4" cy="100.7" r="1.75"/><circle cx="387.6" cy="101.8" r="1.75"/><circle cx="402.8" cy="103.0" r="1.75"/><circle cx="376.8" cy="102.8" r="1.75"/><circle cx="409.4" cy="104.3" r="1.75"/><circle cx="388.8" cy="105.5" r="1.75"/><circle cx="386.3" cy="104.7" r="1.75"/><circle cx="388.0" cy="100.1" r="1.75"/><circle cx="378.1" cy="110.2" r="1.75"/><circle cx="390.8" cy="104.1" r="1.75"/><circle cx="379.3" cy="102.1" r="1.75"/><circle cx="385.0" cy="105.3" r="1.75"/><circle cx="456.8" cy="105.2" r="1.75"/><circle cx="441.8" cy="100.1" r="1.75"/><circle cx="396.2" cy="106.0" r="1.75"/><circle cx="418.8" cy="102.0" r="1.75"/><circle cx="415.0" cy="101.7" r="1.75"/><circle cx="456.0" cy="112.3" r="1.75"/><circle cx="399.4" cy="103.9" r="1.75"/><circle cx="383.7" cy="107.1" r="1.75"/><circle cx="377.1" cy="100.8" r="1.75"/><circle cx="379.1" cy="101.9" r="1.75"/><circle cx="393.8" cy="99.6" r="1.75"/><circle cx="404.9" cy="104.2" r="1.75"/><circle cx="376.4" cy="102.9" r="1.75"/><circle cx="376.4" cy="113.0" r="1.75"/><circle cx="406.0" cy="103.1" r="1.75"/><circle cx="429.2" cy="108.6" r="1.75"/><circle cx="396.4" cy="102.9" r="1.75"/><circle cx="434.4" cy="109.2" r="1.75"/><circle cx="380.3" cy="104.8" r="1.75"/><circle cx="424.9" cy="101.2" r="1.75"/><circle cx="387.5" cy="100.5" r="1.75"/><circle cx="410.4" cy="100.1" r="1.75"/><circle cx="386.3" cy="103.5" r="1.75"/><circle cx="418.8" cy="102.9" r="1.75"/><circle cx="442.6" cy="104.7" r="1.75"/><circle cx="393.5" cy="105.4" r="1.75"/><circle cx="389.1" cy="103.5" r="1.75"/><circle cx="380.0" cy="102.2" r="1.75"/><circle cx="392.3" cy="99.7" r="1.75"/><circle cx="430.4" cy="103.3" r="1.75"/><circle cx="407.6" cy="101.0" r="1.75"/><circle cx="380.5" cy="102.6" r="1.75"/><circle cx="382.2" cy="102.9" r="1.75"/><circle cx="376.4" cy="104.2" r="1.75"/><circle cx="403.9" cy="103.5" r="1.75"/><circle cx="406.8" cy="102.3" r="1.75"/><circle cx="385.2" cy="103.0" r="1.75"/><circle cx="432.1" cy="102.8" r="1.75"/><circle cx="380.6" cy="105.3" r="1.75"/><circle cx="385.9" cy="100.0" r="1.75"/><circle cx="397.0" cy="100.4" r="1.75"/><circle cx="388.8" cy="102.8" r="1.75"/><circle cx="421.2" cy="104.1" r="1.75"/><circle cx="384.1" cy="101.1" r="1.75"/><circle cx="393.7" cy="102.6" r="1.75"/><circle cx="416.3" cy="99.7" r="1.75"/><circle cx="395.0" cy="101.8" r="1.75"/><circle cx="414.3" cy="102.5" r="1.75"/><circle cx="463.4" cy="104.3" r="1.75"/><circle cx="404.1" cy="105.6" r="1.75"/><circle cx="409.5" cy="107.4" r="1.75"/><circle cx="422.8" cy="106.4" r="1.75"/><circle cx="400.1" cy="102.4" r="1.75"/><circle cx="395.4" cy="104.4" r="1.75"/><circle cx="386.5" cy="105.3" r="1.75"/><circle cx="405.0" cy="103.7" r="1.75"/><circle cx="377.3" cy="103.7" r="1.75"/><circle cx="412.0" cy="103.8" r="1.75"/><circle cx="412.1" cy="102.4" r="1.75"/><circle cx="401.3" cy="100.8" r="1.75"/><circle cx="429.6" cy="103.0" r="1.75"/><circle cx="396.6" cy="107.8" r="1.75"/><circle cx="456.8" cy="111.2" r="1.75"/><circle cx="403.0" cy="111.4" r="1.75"/><circle cx="386.7" cy="103.8" r="1.75"/><circle cx="446.7" cy="106.2" r="1.75"/><circle cx="439.9" cy="117.0" r="1.75"/><circle cx="378.7" cy="100.8" r="1.75"/><circle cx="457.6" cy="100.5" r="1.75"/><circle cx="441.8" cy="103.6" r="1.75"/><circle cx="400.2" cy="110.2" r="1.75"/><circle cx="384.7" cy="102.0" r="1.75"/><circle cx="389.1" cy="100.8" r="1.75"/><circle cx="408.4" cy="101.2" r="1.75"/><circle cx="437.9" cy="103.6" r="1.75"/><circle cx="440.4" cy="99.7" r="1.75"/><circle cx="453.3" cy="100.4" r="1.75"/><circle cx="439.7" cy="106.4" r="1.75"/><circle cx="382.6" cy="101.2" r="1.75"/><circle cx="377.5" cy="101.4" r="1.75"/><circle cx="393.0" cy="106.4" r="1.75"/><circle cx="381.0" cy="107.3" r="1.75"/><circle cx="384.0" cy="107.7" r="1.75"/><circle cx="414.4" cy="106.4" r="1.75"/><circle cx="468.8" cy="114.2" r="1.75"/><circle cx="385.3" cy="106.6" r="1.75"/><circle cx="415.7" cy="105.8" r="1.75"/><circle cx="384.8" cy="105.7" r="1.75"/><circle cx="420.2" cy="100.4" r="1.75"/><circle cx="392.6" cy="99.9" r="1.75"/><circle cx="391.2" cy="102.5" r="1.75"/><circle cx="413.0" cy="102.7" r="1.75"/><circle cx="423.5" cy="100.7" r="1.75"/><circle cx="423.3" cy="102.1" r="1.75"/><circle cx="401.1" cy="101.4" r="1.75"/><circle cx="413.7" cy="101.5" r="1.75"/><circle cx="393.7" cy="105.4" r="1.75"/><circle cx="423.1" cy="116.3" r="1.75"/><circle cx="429.3" cy="102.5" r="1.75"/><circle cx="397.0" cy="103.1" r="1.75"/><circle cx="382.3" cy="103.4" r="1.75"/><circle cx="444.6" cy="103.7" r="1.75"/><circle cx="397.0" cy="105.8" r="1.75"/><circle cx="393.0" cy="101.3" r="1.75"/><circle cx="424.6" cy="100.2" r="1.75"/><circle cx="389.4" cy="106.7" r="1.75"/><circle cx="458.4" cy="102.0" r="1.75"/><circle cx="421.2" cy="110.0" r="1.75"/><circle cx="400.3" cy="104.5" r="1.75"/><circle cx="493.8" cy="101.1" r="1.75"/><circle cx="495.5" cy="100.1" r="1.75"/><circle cx="508.9" cy="103.5" r="1.75"/><circle cx="509.9" cy="107.8" r="1.75"/><circle cx="519.0" cy="103.5" r="1.75"/><circle cx="505.6" cy="113.5" r="1.75"/><circle cx="517.3" cy="121.3" r="1.75"/><circle cx="544.2" cy="109.2" r="1.75"/><circle cx="593.5" cy="109.2" r="1.75"/><circle cx="645.6" cy="103.5" r="1.75"/><circle cx="463.6" cy="124.6" r="1.75"/><circle cx="445.8" cy="126.0" r="1.75"/><circle cx="453.5" cy="115.2" r="1.75"/><circle cx="473.7" cy="111.9" r="1.75"/><circle cx="480.4" cy="113.5" r="1.75"/><circle cx="488.8" cy="106.8" r="1.75"/><circle cx="490.4" cy="105.1" r="1.75"/><circle cx="401.2" cy="70.8" r="1.75"/><circle cx="426.9" cy="68.5" r="1.75"/><circle cx="404.2" cy="71.4" r="1.75"/><circle cx="386.6" cy="69.6" r="1.75"/><circle cx="410.8" cy="76.5" r="1.75"/><circle cx="381.6" cy="64.5" r="1.75"/><circle cx="381.4" cy="76.9" r="1.75"/><circle cx="414.3" cy="58.0" r="1.75"/><circle cx="430.0" cy="80.7" r="1.75"/><circle cx="412.1" cy="72.1" r="1.75"/><circle cx="385.1" cy="57.4" r="1.75"/><circle cx="405.3" cy="58.5" r="1.75"/><circle cx="386.9" cy="63.0" r="1.75"/><circle cx="378.1" cy="68.4" r="1.75"/><circle cx="400.5" cy="77.7" r="1.75"/><circle cx="404.8" cy="72.8" r="1.75"/><circle cx="403.7" cy="73.3" r="1.75"/><circle cx="401.4" cy="63.8" r="1.75"/><circle cx="430.9" cy="81.5" r="1.75"/><circle cx="422.3" cy="74.4" r="1.75"/><circle cx="393.7" cy="62.6" r="1.75"/><circle cx="392.3" cy="58.7" r="1.75"/><circle cx="418.3" cy="66.8" r="1.75"/><circle cx="422.6" cy="66.5" r="1.75"/><circle cx="428.7" cy="77.8" r="1.75"/><circle cx="376.5" cy="62.2" r="1.75"/><circle cx="426.1" cy="68.6" r="1.75"/><circle cx="429.9" cy="66.8" r="1.75"/><circle cx="380.5" cy="72.5" r="1.75"/><circle cx="418.9" cy="63.6" r="1.75"/><circle cx="381.2" cy="65.2" r="1.75"/><circle cx="429.0" cy="75.6" r="1.75"/><circle cx="382.9" cy="63.1" r="1.75"/><circle cx="382.0" cy="58.5" r="1.75"/><circle cx="419.9" cy="61.4" r="1.75"/><circle cx="407.0" cy="68.0" r="1.75"/><circle cx="386.9" cy="75.0" r="1.75"/><circle cx="383.6" cy="72.8" r="1.75"/><circle cx="382.8" cy="67.4" r="1.75"/><circle cx="388.1" cy="63.6" r="1.75"/><circle cx="429.4" cy="76.8" r="1.75"/><circle cx="393.1" cy="78.8" r="1.75"/><circle cx="388.0" cy="66.7" r="1.75"/><circle cx="423.1" cy="72.8" r="1.75"/><circle cx="382.0" cy="81.3" r="1.75"/><circle cx="388.1" cy="63.4" r="1.75"/><circle cx="418.6" cy="65.1" r="1.75"/><circle cx="392.6" cy="58.8" r="1.75"/><circle cx="381.4" cy="71.3" r="1.75"/><circle cx="389.7" cy="71.8" r="1.75"/><circle cx="396.8" cy="68.1" r="1.75"/><circle cx="428.8" cy="68.9" r="1.75"/><circle cx="407.8" cy="78.3" r="1.75"/><circle cx="386.5" cy="60.8" r="1.75"/><circle cx="426.0" cy="77.1" r="1.75"/><circle cx="390.1" cy="61.7" r="1.75"/><circle cx="416.8" cy="80.1" r="1.75"/><circle cx="387.2" cy="80.4" r="1.75"/><circle cx="424.6" cy="71.8" r="1.75"/><circle cx="399.5" cy="59.6" r="1.75"/><circle cx="378.6" cy="80.7" r="1.75"/><circle cx="389.5" cy="74.3" r="1.75"/><circle cx="390.5" cy="77.3" r="1.75"/><circle cx="409.0" cy="64.2" r="1.75"/><circle cx="386.1" cy="74.7" r="1.75"/><circle cx="380.2" cy="62.6" r="1.75"/><circle cx="407.0" cy="78.0" r="1.75"/><circle cx="410.0" cy="63.9" r="1.75"/><circle cx="426.5" cy="62.0" r="1.75"/><circle cx="377.4" cy="63.6" r="1.75"/><circle cx="400.8" cy="58.5" r="1.75"/><circle cx="386.1" cy="66.1" r="1.75"/><circle cx="407.7" cy="60.2" r="1.75"/><circle cx="396.2" cy="78.9" r="1.75"/><circle cx="429.9" cy="73.2" r="1.75"/><circle cx="414.2" cy="71.4" r="1.75"/><circle cx="384.1" cy="57.9" r="1.75"/><circle cx="377.5" cy="79.4" r="1.75"/><circle cx="414.7" cy="80.7" r="1.75"/><circle cx="377.7" cy="72.7" r="1.75"/><circle cx="402.8" cy="75.0" r="1.75"/><circle cx="393.9" cy="81.6" r="1.75"/><circle cx="380.6" cy="70.4" r="1.75"/><circle cx="416.7" cy="79.1" r="1.75"/><circle cx="416.7" cy="74.3" r="1.75"/><circle cx="419.7" cy="79.5" r="1.75"/><circle cx="395.7" cy="73.9" r="1.75"/><circle cx="425.6" cy="78.4" r="1.75"/><circle cx="399.2" cy="76.4" r="1.75"/><circle cx="423.6" cy="71.1" r="1.75"/><circle cx="410.6" cy="66.4" r="1.75"/><circle cx="408.3" cy="72.0" r="1.75"/><circle cx="380.9" cy="72.7" r="1.75"/><circle cx="430.6" cy="78.6" r="1.75"/><circle cx="416.2" cy="66.6" r="1.75"/><circle cx="416.6" cy="71.3" r="1.75"/><circle cx="400.5" cy="77.6" r="1.75"/><circle cx="381.1" cy="75.5" r="1.75"/><circle cx="378.1" cy="71.8" r="1.75"/><circle cx="402.7" cy="62.7" r="1.75"/><circle cx="414.6" cy="69.2" r="1.75"/><circle cx="410.0" cy="79.6" r="1.75"/><circle cx="390.4" cy="57.3" r="1.75"/><circle cx="392.9" cy="73.7" r="1.75"/><circle cx="387.5" cy="61.2" r="1.75"/><circle cx="425.9" cy="73.2" r="1.75"/><circle cx="400.6" cy="78.9" r="1.75"/><circle cx="394.3" cy="73.4" r="1.75"/><circle cx="387.3" cy="67.6" r="1.75"/><circle cx="420.4" cy="79.5" r="1.75"/><circle cx="424.5" cy="66.5" r="1.75"/><circle cx="408.3" cy="64.8" r="1.75"/><circle cx="383.9" cy="69.2" r="1.75"/><circle cx="422.1" cy="77.9" r="1.75"/><circle cx="415.3" cy="80.4" r="1.75"/><circle cx="391.6" cy="61.2" r="1.75"/><circle cx="401.1" cy="63.8" r="1.75"/><circle cx="388.2" cy="67.2" r="1.75"/><circle cx="410.6" cy="69.1" r="1.75"/><circle cx="393.7" cy="77.6" r="1.75"/><circle cx="430.0" cy="68.1" r="1.75"/><circle cx="380.6" cy="57.8" r="1.75"/><circle cx="424.1" cy="58.0" r="1.75"/><circle cx="415.1" cy="71.0" r="1.75"/><circle cx="393.3" cy="76.5" r="1.75"/><circle cx="377.5" cy="60.3" r="1.75"/><circle cx="401.3" cy="57.6" r="1.75"/><circle cx="421.7" cy="62.8" r="1.75"/><circle cx="384.2" cy="58.2" r="1.75"/><circle cx="410.8" cy="68.0" r="1.75"/><circle cx="410.8" cy="73.1" r="1.75"/><circle cx="420.5" cy="80.6" r="1.75"/><circle cx="413.8" cy="61.9" r="1.75"/><circle cx="402.4" cy="61.4" r="1.75"/><circle cx="377.1" cy="68.6" r="1.75"/><circle cx="415.4" cy="61.4" r="1.75"/><circle cx="391.3" cy="65.5" r="1.75"/><circle cx="414.5" cy="69.8" r="1.75"/><circle cx="410.0" cy="75.6" r="1.75"/><circle cx="397.9" cy="76.5" r="1.75"/><circle cx="425.9" cy="59.1" r="1.75"/><circle cx="427.3" cy="74.8" r="1.75"/><circle cx="383.6" cy="68.2" r="1.75"/><circle cx="410.6" cy="79.4" r="1.75"/><circle cx="397.0" cy="71.0" r="1.75"/><circle cx="424.4" cy="76.6" r="1.75"/><circle cx="428.0" cy="68.4" r="1.75"/><circle cx="412.0" cy="62.0" r="1.75"/><circle cx="415.8" cy="77.1" r="1.75"/><circle cx="411.5" cy="74.7" r="1.75"/><circle cx="413.3" cy="48.0" r="1.75"/><circle cx="407.6" cy="55.5" r="1.75"/><circle cx="418.3" cy="47.6" r="1.75"/><circle cx="397.9" cy="51.5" r="1.75"/><circle cx="383.2" cy="53.4" r="1.75"/><circle cx="382.5" cy="53.4" r="1.75"/><circle cx="408.5" cy="42.4" r="1.75"/><circle cx="394.1" cy="54.7" r="1.75"/><circle cx="419.9" cy="50.5" r="1.75"/><circle cx="413.8" cy="53.1" r="1.75"/><circle cx="382.4" cy="51.2" r="1.75"/><circle cx="415.5" cy="42.4" r="1.75"/><circle cx="393.3" cy="50.7" r="1.75"/><circle cx="417.2" cy="49.4" r="1.75"/><circle cx="382.5" cy="41.2" r="1.75"/><circle cx="386.0" cy="37.5" r="1.75"/><circle cx="388.0" cy="35.0" r="1.75"/><circle cx="390.5" cy="31.7" r="1.75"/><circle cx="378.7" cy="44.3" r="1.75"/><circle cx="384.6" cy="39.9" r="1.75"/><circle cx="449.4" cy="74.1" r="1.75"/><circle cx="442.1" cy="39.0" r="1.75"/><circle cx="466.8" cy="74.6" r="1.75"/><circle cx="464.4" cy="67.3" r="1.75"/><circle cx="449.4" cy="75.7" r="1.75"/><circle cx="466.1" cy="35.2" r="1.75"/><circle cx="438.3" cy="53.8" r="1.75"/><circle cx="437.9" cy="41.2" r="1.75"/><circle cx="432.1" cy="78.5" r="1.75"/><circle cx="459.8" cy="69.3" r="1.75"/><circle cx="466.9" cy="41.8" r="1.75"/><circle cx="459.2" cy="77.3" r="1.75"/><circle cx="458.5" cy="38.2" r="1.75"/><circle cx="448.3" cy="79.6" r="1.75"/><circle cx="439.2" cy="69.5" r="1.75"/><circle cx="459.1" cy="74.6" r="1.75"/><circle cx="437.4" cy="72.8" r="1.75"/><circle cx="457.2" cy="45.8" r="1.75"/><circle cx="445.3" cy="52.3" r="1.75"/><circle cx="466.3" cy="55.9" r="1.75"/><circle cx="439.4" cy="69.8" r="1.75"/><circle cx="468.0" cy="52.1" r="1.75"/><circle cx="441.4" cy="53.4" r="1.75"/><circle cx="433.7" cy="35.9" r="1.75"/><circle cx="448.1" cy="59.0" r="1.75"/><circle cx="451.8" cy="80.9" r="1.75"/><circle cx="488.2" cy="31.1" r="1.75"/><circle cx="492.2" cy="33.9" r="1.75"/><circle cx="484.2" cy="38.0" r="1.75"/><circle cx="514.2" cy="24.4" r="1.75"/><circle cx="519.9" cy="30.8" r="1.75"/><circle cx="537.3" cy="35.3" r="1.75"/><circle cx="557.3" cy="19.0" r="1.75"/><circle cx="559.1" cy="17.2" r="1.75"/><circle cx="560.8" cy="15.8" r="1.75"/><circle cx="471.5" cy="50.8" r="1.75"/><circle cx="478.8" cy="53.0" r="1.75"/><circle cx="483.9" cy="50.4" r="1.75"/><circle cx="483.6" cy="53.7" r="1.75"/><circle cx="488.5" cy="51.8" r="1.75"/><circle cx="511.6" cy="59.6" r="1.75"/><circle cx="531.3" cy="54.0" r="1.75"/><circle cx="533.1" cy="51.8" r="1.75"/><circle cx="535.0" cy="59.4" r="1.75"/><circle cx="547.7" cy="60.1" r="1.75"/><circle cx="549.6" cy="63.5" r="1.75"/><circle cx="470.0" cy="60.6" r="1.75"/><circle cx="487.8" cy="67.9" r="1.75"/><circle cx="493.1" cy="66.4" r="1.75"/><circle cx="475.1" cy="70.1" r="1.75"/><circle cx="472.2" cy="71.5" r="1.75"/><circle cx="472.9" cy="75.6" r="1.75"/><circle cx="486.1" cy="74.0" r="1.75"/><circle cx="482.4" cy="78.5" r="1.75"/><circle cx="521.8" cy="67.2" r="1.75"/><circle cx="524.3" cy="67.4" r="1.75"/><circle cx="579.9" cy="62.9" r="1.75"/><circle cx="597.3" cy="61.5" r="1.75"/><circle cx="600.0" cy="61.5" r="1.75"/><circle cx="610.2" cy="54.8" r="1.75"/><circle cx="611.9" cy="61.9" r="1.75"/><circle cx="613.1" cy="64.1" r="1.75"/><circle cx="617.0" cy="38.2" r="1.75"/><circle cx="627.9" cy="25.9" r="1.75"/><circle cx="627.9" cy="34.0" r="1.75"/><circle cx="629.8" cy="60.9" r="1.75"/><circle cx="400.0" cy="10.3" r="1.75"/><circle cx="434.0" cy="34.0" r="1.75"/><circle cx="443.5" cy="31.7" r="1.75"/><circle cx="444.0" cy="46.0" r="1.75"/><circle cx="405.3" cy="99.7" r="1.75"/><circle cx="428.0" cy="102.0" r="1.75"/><circle cx="378.9" cy="100.5" r="1.75"/><circle cx="385.0" cy="105.6" r="1.75"/><circle cx="386.5" cy="101.5" r="1.75"/><circle cx="448.7" cy="99.8" r="1.75"/><circle cx="466.0" cy="103.4" r="1.75"/><circle cx="420.4" cy="99.9" r="1.75"/><circle cx="391.5" cy="103.3" r="1.75"/><circle cx="382.3" cy="101.0" r="1.75"/><circle cx="402.0" cy="101.3" r="1.75"/><circle cx="410.4" cy="102.0" r="1.75"/><circle cx="424.9" cy="103.7" r="1.75"/><circle cx="435.7" cy="99.5" r="1.75"/><circle cx="412.9" cy="108.8" r="1.75"/><circle cx="382.1" cy="100.3" r="1.75"/><circle cx="424.4" cy="101.8" r="1.75"/><circle cx="384.6" cy="103.7" r="1.75"/><circle cx="394.6" cy="100.0" r="1.75"/><circle cx="426.1" cy="106.0" r="1.75"/><circle cx="384.6" cy="101.8" r="1.75"/><circle cx="403.8" cy="99.2" r="1.75"/><circle cx="398.1" cy="104.3" r="1.75"/><circle cx="416.1" cy="100.2" r="1.75"/><circle cx="403.2" cy="100.8" r="1.75"/><circle cx="381.3" cy="100.8" r="1.75"/><circle cx="376.6" cy="103.3" r="1.75"/><circle cx="394.6" cy="99.1" r="1.75"/><circle cx="385.8" cy="99.5" r="1.75"/><circle cx="452.1" cy="100.5" r="1.75"/><circle cx="402.9" cy="105.8" r="1.75"/><circle cx="384.7" cy="100.9" r="1.75"/><circle cx="381.1" cy="99.4" r="1.75"/><circle cx="388.1" cy="100.1" r="1.75"/><circle cx="407.1" cy="102.1" r="1.75"/><circle cx="404.4" cy="99.5" r="1.75"/><circle cx="379.0" cy="100.1" r="1.75"/><circle cx="385.4" cy="101.2" r="1.75"/><circle cx="381.6" cy="101.7" r="1.75"/><circle cx="425.4" cy="106.0" r="1.75"/><circle cx="378.0" cy="102.2" r="1.75"/><circle cx="383.8" cy="101.0" r="1.75"/><circle cx="466.0" cy="103.5" r="1.75"/><circle cx="421.8" cy="100.2" r="1.75"/><circle cx="466.0" cy="101.7" r="1.75"/><circle cx="419.7" cy="102.5" r="1.75"/><circle cx="377.3" cy="99.5" r="1.75"/><circle cx="380.9" cy="107.4" r="1.75"/><circle cx="392.0" cy="100.3" r="1.75"/><circle cx="378.5" cy="103.0" r="1.75"/><circle cx="377.1" cy="105.8" r="1.75"/><circle cx="418.4" cy="99.2" r="1.75"/><circle cx="384.4" cy="99.1" r="1.75"/><circle cx="384.9" cy="104.1" r="1.75"/><circle cx="395.8" cy="102.5" r="1.75"/><circle cx="389.2" cy="100.6" r="1.75"/><circle cx="466.0" cy="99.9" r="1.75"/><circle cx="392.5" cy="99.7" r="1.75"/><circle cx="409.6" cy="102.4" r="1.75"/><circle cx="414.0" cy="100.3" r="1.75"/><circle cx="439.9" cy="106.0" r="1.75"/><circle cx="395.9" cy="103.5" r="1.75"/><circle cx="392.0" cy="101.2" r="1.75"/><circle cx="424.6" cy="102.3" r="1.75"/><circle cx="383.8" cy="100.5" r="1.75"/><circle cx="401.5" cy="101.1" r="1.75"/><circle cx="381.7" cy="99.8" r="1.75"/><circle cx="396.2" cy="101.7" r="1.75"/><circle cx="387.8" cy="111.0" r="1.75"/><circle cx="412.4" cy="103.1" r="1.75"/><circle cx="439.5" cy="100.1" r="1.75"/><circle cx="378.4" cy="102.8" r="1.75"/><circle cx="413.6" cy="101.1" r="1.75"/><circle cx="376.6" cy="101.4" r="1.75"/><circle cx="382.4" cy="99.3" r="1.75"/><circle cx="458.3" cy="103.0" r="1.75"/><circle cx="416.2" cy="99.4" r="1.75"/><circle cx="381.3" cy="102.8" r="1.75"/><circle cx="464.3" cy="103.3" r="1.75"/><circle cx="417.1" cy="104.3" r="1.75"/><circle cx="399.7" cy="81.0" r="1.75"/><circle cx="385.1" cy="81.5" r="1.75"/><circle cx="379.1" cy="82.1" r="1.75"/><circle cx="385.1" cy="81.9" r="1.75"/><circle cx="390.0" cy="81.1" r="1.75"/><circle cx="386.8" cy="81.3" r="1.75"/><circle cx="378.0" cy="81.2" r="1.75"/><circle cx="391.9" cy="81.0" r="1.75"/><circle cx="384.8" cy="81.5" r="1.75"/><circle cx="390.6" cy="81.2" r="1.75"/><circle cx="394.7" cy="81.3" r="1.75"/><circle cx="395.1" cy="81.8" r="1.75"/><circle cx="380.7" cy="81.2" r="1.75"/><circle cx="384.0" cy="81.9" r="1.75"/><circle cx="387.1" cy="81.5" r="1.75"/><circle cx="398.6" cy="81.3" r="1.75"/><circle cx="384.3" cy="81.4" r="1.75"/><circle cx="382.4" cy="81.0" r="1.75"/><circle cx="520.7" cy="107.8" r="1.75"/><circle cx="484.4" cy="108.5" r="1.75"/><circle cx="468.6" cy="103.5" r="1.75"/><circle cx="456.9" cy="100.1" r="1.75"/><circle cx="441.8" cy="110.2" r="1.75"/></g>
<g fill="none" stroke="#9a99ea" stroke-width="0.75"><circle cx="401.2" cy="70.8" r="2.0"/><circle cx="426.9" cy="68.5" r="2.0"/><circle cx="404.2" cy="71.4" r="2.0"/><circle cx="386.6" cy="69.6" r="2.0"/><circle cx="410.8" cy="76.5" r="2.0"/><circle cx="381.6" cy="64.5" r="2.0"/><circle cx="381.4" cy="76.9" r="2.0"/><circle cx="414.3" cy="58.0" r="2.0"/><circle cx="430.0" cy="80.7" r="2.0"/><circle cx="412.1" cy="72.1" r="2.0"/><circle cx="385.1" cy="57.4" r="2.0"/><circle cx="405.3" cy="58.5" r="2.0"/><circle cx="386.9" cy="63.0" r="2.0"/><circle cx="378.1" cy="68.4" r="2.0"/><circle cx="400.5" cy="77.7" r="2.0"/><circle cx="404.8" cy="72.8" r="2.0"/><circle cx="403.7" cy="73.3" r="2.0"/><circle cx="401.4" cy="63.8" r="2.0"/><circle cx="430.9" cy="81.5" r="2.0"/><circle cx="422.3" cy="74.4" r="2.0"/><circle cx="393.7" cy="62.6" r="2.0"/><circle cx="392.3" cy="58.7" r="2.0"/><circle cx="418.3" cy="66.8" r="2.0"/><circle cx="422.6" cy="66.5" r="2.0"/><circle cx="428.7" cy="77.8" r="2.0"/><circle cx="376.5" cy="62.2" r="2.0"/><circle cx="426.1" cy="68.6" r="2.0"/><circle cx="429.9" cy="66.8" r="2.0"/><circle cx="380.5" cy="72.5" r="2.0"/><circle cx="418.9" cy="63.6" r="2.0"/><circle cx="381.2" cy="65.2" r="2.0"/><circle cx="429.0" cy="75.6" r="2.0"/><circle cx="382.9" cy="63.1" r="2.0"/><circle cx="382.0" cy="58.5" r="2.0"/><circle cx="419.9" cy="61.4" r="2.0"/><circle cx="407.0" cy="68.0" r="2.0"/><circle cx="386.9" cy="75.0" r="2.0"/><circle cx="383.6" cy="72.8" r="2.0"/><circle cx="382.8" cy="67.4" r="2.0"/><circle cx="388.1" cy="63.6" r="2.0"/><circle cx="429.4" cy="76.8" r="2.0"/><circle cx="393.1" cy="78.8" r="2.0"/><circle cx="388.0" cy="66.7" r="2.0"/><circle cx="423.1" cy="72.8" r="2.0"/><circle cx="382.0" cy="81.3" r="2.0"/><circle cx="388.1" cy="63.4" r="2.0"/><circle cx="418.6" cy="65.1" r="2.0"/><circle cx="392.6" cy="58.8" r="2.0"/><circle cx="381.4" cy="71.3" r="2.0"/><circle cx="389.7" cy="71.8" r="2.0"/><circle cx="396.8" cy="68.1" r="2.0"/><circle cx="428.8" cy="68.9" r="2.0"/><circle cx="407.8" cy="78.3" r="2.0"/><circle cx="386.5" cy="60.8" r="2.0"/><circle cx="426.0" cy="77.1" r="2.0"/><circle cx="390.1" cy="61.7" r="2.0"/><circle cx="416.8" cy="80.1" r="2.0"/><circle cx="387.2" cy="80.4" r="2.0"/><circle cx="424.6" cy="71.8" r="2.0"/><circle cx="399.5" cy="59.6" r="2.0"/><circle cx="378.6" cy="80.7" r="2.0"/><circle cx="389.5" cy="74.3" r="2.0"/><circle cx="390.5" cy="77.3" r="2.0"/><circle cx="409.0" cy="64.2" r="2.0"/><circle cx="386.1" cy="74.7" r="2.0"/><circle cx="380.2" cy="62.6" r="2.0"/><circle cx="407.0" cy="78.0" r="2.0"/><circle cx="410.0" cy="63.9" r="2.0"/><circle cx="426.5" cy="62.0" r="2.0"/><circle cx="377.4" cy="63.6" r="2.0"/><circle cx="400.8" cy="58.5" r="2.0"/><circle cx="386.1" cy="66.1" r="2.0"/><circle cx="407.7" cy="60.2" r="2.0"/><circle cx="396.2" cy="78.9" r="2.0"/><circle cx="429.9" cy="73.2" r="2.0"/><circle cx="414.2" cy="71.4" r="2.0"/><circle cx="384.1" cy="57.9" r="2.0"/><circle cx="377.5" cy="79.4" r="2.0"/><circle cx="414.7" cy="80.7" r="2.0"/><circle cx="377.7" cy="72.7" r="2.0"/><circle cx="402.8" cy="75.0" r="2.0"/><circle cx="393.9" cy="81.6" r="2.0"/><circle cx="380.6" cy="70.4" r="2.0"/><circle cx="416.7" cy="79.1" r="2.0"/><circle cx="416.7" cy="74.3" r="2.0"/><circle cx="419.7" cy="79.5" r="2.0"/><circle cx="395.7" cy="73.9" r="2.0"/><circle cx="425.6" cy="78.4" r="2.0"/><circle cx="399.2" cy="76.4" r="2.0"/><circle cx="423.6" cy="71.1" r="2.0"/><circle cx="410.6" cy="66.4" r="2.0"/><circle cx="408.3" cy="72.0" r="2.0"/><circle cx="380.9" cy="72.7" r="2.0"/><circle cx="430.6" cy="78.6" r="2.0"/><circle cx="416.2" cy="66.6" r="2.0"/><circle cx="416.6" cy="71.3" r="2.0"/><circle cx="400.5" cy="77.6" r="2.0"/><circle cx="381.1" cy="75.5" r="2.0"/><circle cx="378.1" cy="71.8" r="2.0"/><circle cx="402.7" cy="62.7" r="2.0"/><circle cx="414.6" cy="69.2" r="2.0"/><circle cx="410.0" cy="79.6" r="2.0"/><circle cx="390.4" cy="57.3" r="2.0"/><circle cx="392.9" cy="73.7" r="2.0"/><circle cx="387.5" cy="61.2" r="2.0"/><circle cx="425.9" cy="73.2" r="2.0"/><circle cx="400.6" cy="78.9" r="2.0"/><circle cx="394.3" cy="73.4" r="2.0"/><circle cx="387.3" cy="67.6" r="2.0"/><circle cx="420.4" cy="79.5" r="2.0"/><circle cx="424.5" cy="66.5" r="2.0"/><circle cx="408.3" cy="64.8" r="2.0"/><circle cx="383.9" cy="69.2" r="2.0"/><circle cx="422.1" cy="77.9" r="2.0"/><circle cx="415.3" cy="80.4" r="2.0"/><circle cx="391.6" cy="61.2" r="2.0"/><circle cx="401.1" cy="63.8" r="2.0"/><circle cx="388.2" cy="67.2" r="2.0"/><circle cx="410.6" cy="69.1" r="2.0"/><circle cx="393.7" cy="77.6" r="2.0"/><circle cx="430.0" cy="68.1" r="2.0"/><circle cx="380.6" cy="57.8" r="2.0"/><circle cx="424.1" cy="58.0" r="2.0"/><circle cx="415.1" cy="71.0" r="2.0"/><circle cx="393.3" cy="76.5" r="2.0"/><circle cx="377.5" cy="60.3" r="2.0"/><circle cx="401.3" cy="57.6" r="2.0"/><circle cx="421.7" cy="62.8" r="2.0"/><circle cx="384.2" cy="58.2" r="2.0"/><circle cx="410.8" cy="68.0" r="2.0"/><circle cx="410.8" cy="73.1" r="2.0"/><circle cx="420.5" cy="80.6" r="2.0"/><circle cx="413.8" cy="61.9" r="2.0"/><circle cx="402.4" cy="61.4" r="2.0"/><circle cx="377.1" cy="68.6" r="2.0"/><circle cx="415.4" cy="61.4" r="2.0"/><circle cx="391.3" cy="65.5" r="2.0"/><circle cx="414.5" cy="69.8" r="2.0"/><circle cx="410.0" cy="75.6" r="2.0"/><circle cx="397.9" cy="76.5" r="2.0"/><circle cx="425.9" cy="59.1" r="2.0"/><circle cx="427.3" cy="74.8" r="2.0"/><circle cx="383.6" cy="68.2" r="2.0"/><circle cx="410.6" cy="79.4" r="2.0"/><circle cx="397.0" cy="71.0" r="2.0"/><circle cx="424.4" cy="76.6" r="2.0"/><circle cx="428.0" cy="68.4" r="2.0"/><circle cx="412.0" cy="62.0" r="2.0"/><circle cx="415.8" cy="77.1" r="2.0"/><circle cx="411.5" cy="74.7" r="2.0"/><circle cx="413.3" cy="48.0" r="2.0"/><circle cx="407.6" cy="55.5" r="2.0"/><circle cx="418.3" cy="47.6" r="2.0"/><circle cx="397.9" cy="51.5" r="2.0"/><circle cx="383.2" cy="53.4" r="2.0"/><circle cx="382.5" cy="53.4" r="2.0"/><circle cx="408.5" cy="42.4" r="2.0"/><circle cx="394.1" cy="54.7" r="2.0"/><circle cx="419.9" cy="50.5" r="2.0"/><circle cx="413.8" cy="53.1" r="2.0"/><circle cx="382.4" cy="51.2" r="2.0"/><circle cx="415.5" cy="42.4" r="2.0"/><circle cx="393.3" cy="50.7" r="2.0"/><circle cx="417.2" cy="49.4" r="2.0"/><circle cx="382.5" cy="41.2" r="2.0"/><circle cx="386.0" cy="37.5" r="2.0"/><circle cx="388.0" cy="35.0" r="2.0"/><circle cx="390.5" cy="31.7" r="2.0"/><circle cx="378.7" cy="44.3" r="2.0"/><circle cx="384.6" cy="39.9" r="2.0"/><circle cx="449.4" cy="74.1" r="2.0"/><circle cx="442.1" cy="39.0" r="2.0"/><circle cx="466.8" cy="74.6" r="2.0"/><circle cx="464.4" cy="67.3" r="2.0"/><circle cx="449.4" cy="75.7" r="2.0"/><circle cx="466.1" cy="35.2" r="2.0"/><circle cx="438.3" cy="53.8" r="2.0"/><circle cx="437.9" cy="41.2" r="2.0"/><circle cx="432.1" cy="78.5" r="2.0"/><circle cx="459.8" cy="69.3" r="2.0"/><circle cx="466.9" cy="41.8" r="2.0"/><circle cx="459.2" cy="77.3" r="2.0"/><circle cx="458.5" cy="38.2" r="2.0"/><circle cx="448.3" cy="79.6" r="2.0"/><circle cx="439.2" cy="69.5" r="2.0"/><circle cx="459.1" cy="74.6" r="2.0"/><circle cx="437.4" cy="72.8" r="2.0"/><circle cx="457.2" cy="45.8" r="2.0"/><circle cx="445.3" cy="52.3" r="2.0"/><circle cx="466.3" cy="55.9" r="2.0"/><circle cx="439.4" cy="69.8" r="2.0"/><circle cx="468.0" cy="52.1" r="2.0"/><circle cx="441.4" cy="53.4" r="2.0"/><circle cx="433.7" cy="35.9" r="2.0"/><circle cx="448.1" cy="59.0" r="2.0"/><circle cx="451.8" cy="80.9" r="2.0"/><circle cx="488.2" cy="31.1" r="2.0"/><circle cx="492.2" cy="33.9" r="2.0"/><circle cx="484.2" cy="38.0" r="2.0"/><circle cx="514.2" cy="24.4" r="2.0"/><circle cx="519.9" cy="30.8" r="2.0"/><circle cx="537.3" cy="35.3" r="2.0"/><circle cx="557.3" cy="19.0" r="2.0"/><circle cx="559.1" cy="17.2" r="2.0"/><circle cx="560.8" cy="15.8" r="2.0"/><circle cx="471.5" cy="50.8" r="2.0"/><circle cx="478.8" cy="53.0" r="2.0"/><circle cx="483.9" cy="50.4" r="2.0"/><circle cx="483.6" cy="53.7" r="2.0"/><circle cx="488.5" cy="51.8" r="2.0"/><circle cx="511.6" cy="59.6" r="2.0"/><circle cx="531.3" cy="54.0" r="2.0"/><circle cx="533.1" cy="51.8" r="2.0"/><circle cx="535.0" cy="59.4" r="2.0"/><circle cx="547.7" cy="60.1" r="2.0"/><circle cx="549.6" cy="63.5" r="2.0"/><circle cx="470.0" cy="60.6" r="2.0"/><circle cx="487.8" cy="67.9" r="2.0"/><circle cx="493.1" cy="66.4" r="2.0"/><circle cx="475.1" cy="70.1" r="2.0"/><circle cx="472.2" cy="71.5" r="2.0"/><circle cx="472.9" cy="75.6" r="2.0"/><circle cx="486.1" cy="74.0" r="2.0"/><circle cx="482.4" cy="78.5" r="2.0"/><circle cx="521.8" cy="67.2" r="2.0"/><circle cx="524.3" cy="67.4" r="2.0"/><circle cx="579.9" cy="62.9" r="2.0"/><circle cx="597.3" cy="61.5" r="2.0"/><circle cx="600.0" cy="61.5" r="2.0"/><circle cx="610.2" cy="54.8" r="2.0"/><circle cx="611.9" cy="61.9" r="2.0"/><circle cx="613.1" cy="64.1" r="2.0"/><circle cx="617.0" cy="38.2" r="2.0"/><circle cx="627.9" cy="25.9" r="2.0"/><circle cx="627.9" cy="34.0" r="2.0"/><circle cx="629.8" cy="60.9" r="2.0"/><circle cx="400.0" cy="10.3" r="2.0"/><circle cx="434.0" cy="34.0" r="2.0"/><circle cx="443.5" cy="31.7" r="2.0"/><circle cx="444.0" cy="46.0" r="2.0"/><circle cx="405.3" cy="99.7" r="2.0"/><circle cx="428.0" cy="102.0" r="2.0"/><circle cx="378.9" cy="100.5" r="2.0"/><circle cx="385.0" cy="105.6" r="2.0"/><circle cx="386.5" cy="101.5" r="2.0"/><circle cx="448.7" cy="99.8" r="2.0"/><circle cx="466.0" cy="103.4" r="2.0"/><circle cx="420.4" cy="99.9" r="2.0"/><circle cx="391.5" cy="103.3" r="2.0"/><circle cx="382.3" cy="101.0" r="2.0"/><circle cx="402.0" cy="101.3" r="2.0"/><circle cx="410.4" cy="102.0" r="2.0"/><circle cx="424.9" cy="103.7" r="2.0"/><circle cx="435.7" cy="99.5" r="2.0"/><circle cx="412.9" cy="108.8" r="2.0"/><circle cx="382.1" cy="100.3" r="2.0"/><circle cx="424.4" cy="101.8" r="2.0"/><circle cx="384.6" cy="103.7" r="2.0"/><circle cx="394.6" cy="100.0" r="2.0"/><circle cx="426.1" cy="106.0" r="2.0"/><circle cx="384.6" cy="101.8" r="2.0"/><circle cx="403.8" cy="99.2" r="2.0"/><circle cx="398.1" cy="104.3" r="2.0"/><circle cx="416.1" cy="100.2" r="2.0"/><circle cx="403.2" cy="100.8" r="2.0"/><circle cx="381.3" cy="100.8" r="2.0"/><circle cx="376.6" cy="103.3" r="2.0"/><circle cx="394.6" cy="99.1" r="2.0"/><circle cx="385.8" cy="99.5" r="2.0"/><circle cx="452.1" cy="100.5" r="2.0"/><circle cx="402.9" cy="105.8" r="2.0"/><circle cx="384.7" cy="100.9" r="2.0"/><circle cx="381.1" cy="99.4" r="2.0"/><circle cx="388.1" cy="100.1" r="2.0"/><circle cx="407.1" cy="102.1" r="2.0"/><circle cx="404.4" cy="99.5" r="2.0"/><circle cx="379.0" cy="100.1" r="2.0"/><circle cx="385.4" cy="101.2" r="2.0"/><circle cx="381.6" cy="101.7" r="2.0"/><circle cx="425.4" cy="106.0" r="2.0"/><circle cx="378.0" cy="102.2" r="2.0"/><circle cx="383.8" cy="101.0" r="2.0"/><circle cx="466.0" cy="103.5" r="2.0"/><circle cx="421.8" cy="100.2" r="2.0"/><circle cx="466.0" cy="101.7" r="2.0"/><circle cx="419.7" cy="102.5" r="2.0"/><circle cx="377.3" cy="99.5" r="2.0"/><circle cx="380.9" cy="107.4" r="2.0"/><circle cx="392.0" cy="100.3" r="2.0"/><circle cx="378.5" cy="103.0" r="2.0"/><circle cx="377.1" cy="105.8" r="2.0"/><circle cx="418.4" cy="99.2" r="2.0"/><circle cx="384.4" cy="99.1" r="2.0"/><circle cx="384.9" cy="104.1" r="2.0"/><circle cx="395.8" cy="102.5" r="2.0"/><circle cx="389.2" cy="100.6" r="2.0"/><circle cx="466.0" cy="99.9" r="2.0"/><circle cx="392.5" cy="99.7" r="2.0"/><circle cx="409.6" cy="102.4" r="2.0"/><circle cx="414.0" cy="100.3" r="2.0"/><circle cx="439.9" cy="106.0" r="2.0"/><circle cx="395.9" cy="103.5" r="2.0"/><circle cx="392.0" cy="101.2" r="2.0"/><circle cx="424.6" cy="102.3" r="2.0"/><circle cx="383.8" cy="100.5" r="2.0"/><circle cx="401.5" cy="101.1" r="2.0"/><circle cx="381.7" cy="99.8" r="2.0"/><circle cx="396.2" cy="101.7" r="2.0"/><circle cx="387.8" cy="111.0" r="2.0"/><circle cx="412.4" cy="103.1" r="2.0"/><circle cx="439.5" cy="100.1" r="2.0"/><circle cx="378.4" cy="102.8" r="2.0"/><circle cx="413.6" cy="101.1" r="2.0"/><circle cx="376.6" cy="101.4" r="2.0"/><circle cx="382.4" cy="99.3" r="2.0"/><circle cx="458.3" cy="103.0" r="2.0"/><circle cx="416.2" cy="99.4" r="2.0"/><circle cx="381.3" cy="102.8" r="2.0"/><circle cx="464.3" cy="103.3" r="2.0"/><circle cx="417.1" cy="104.3" r="2.0"/><circle cx="399.7" cy="81.0" r="2.0"/><circle cx="385.1" cy="81.5" r="2.0"/><circle cx="379.1" cy="82.1" r="2.0"/><circle cx="385.1" cy="81.9" r="2.0"/><circle cx="390.0" cy="81.1" r="2.0"/><circle cx="386.8" cy="81.3" r="2.0"/><circle cx="378.0" cy="81.2" r="2.0"/><circle cx="391.9" cy="81.0" r="2.0"/><circle cx="384.8" cy="81.5" r="2.0"/><circle cx="390.6" cy="81.2" r="2.0"/><circle cx="394.7" cy="81.3" r="2.0"/><circle cx="395.1" cy="81.8" r="2.0"/><circle cx="380.7" cy="81.2" r="2.0"/><circle cx="384.0" cy="81.9" r="2.0"/><circle cx="387.1" cy="81.5" r="2.0"/><circle cx="398.6" cy="81.3" r="2.0"/><circle cx="384.3" cy="81.4" r="2.0"/><circle cx="382.4" cy="81.0" r="2.0"/><circle cx="520.7" cy="107.8" r="2.0"/><circle cx="484.4" cy="108.5" r="2.0"/><circle cx="468.6" cy="103.5" r="2.0"/><circle cx="456.9" cy="100.1" r="2.0"/><circle cx="441.8" cy="110.2" r="2.0"/></g>
<path d="M377.6,81.5 H656.8" stroke="#8a8a8a" stroke-width="0.6" stroke-dasharray="3,1.5" fill="none"/>
<path d="M377.6,98.6 H656.8" stroke="#888" stroke-width="0.6" stroke-dasharray="1.2,1.2" fill="none"/>
<path d="M377.5,3.3 V181" stroke="#555" stroke-width="0.8" fill="none"/>
<path d="M374.7,3.3 V181" stroke="#666" stroke-width="1.3" fill="none"/>
<path d="M370.2,3.3 H656.8 V176.4 M370.2,176.4 H656.8 M370.4,89.8 H374.5" stroke="#333" stroke-width="0.9" fill="none"/>
<path d="M445.5,176.4 V181 M515.5,176.4 V181 M586.2,176.4 V181 M656.8,176.4 V181" stroke="#333" stroke-width="0.9" fill="none"/>
<text x="367.9" y="6.2" font-size="6.8" fill="#111" text-anchor="end" >10</text>
<text x="370.2" y="92.2" font-size="6.8" fill="#111" text-anchor="end" >0</text>
<text x="368.9" y="179.2" font-size="6.8" fill="#111" text-anchor="end" >-10</text>
<text x="445.5" y="188.8" font-size="6.8" fill="#111" text-anchor="middle" >50</text>
<text x="515.5" y="188.8" font-size="6.8" fill="#111" text-anchor="middle" >100</text>
<text x="586.2" y="188.8" font-size="6.8" fill="#111" text-anchor="middle" >150</text>
<text x="656.8" y="188.8" font-size="6.8" fill="#111" text-anchor="middle" >200</text>
<text x="516.5" y="200.5" font-size="7.2" fill="#111" text-anchor="middle" >-log10(pval)</text>
<text transform="translate(358.9,102.6) rotate(-90)" font-size="7.2" fill="#111">log2FC</text>
<circle cx="583.7" cy="9.6" r="3.9" fill="none" stroke="#8c8ae6" stroke-width="1.7"/>
<text x="591" y="12.2" font-size="8.1" fill="#111" text-anchor="start" >Bound by WC-2C</text>
<text x="315.65" y="232.05" font-size="16.3" fill="#111" text-anchor="start" >d</text>
<text x="410.8" y="230.0" font-size="6.4" fill="#111" text-anchor="middle" >1975292</text>
<text x="583.6" y="230.0" font-size="6.4" fill="#111" text-anchor="middle" >1888704</text>
<rect x="381.1" y="233.5" width="60.5" height="4.0" fill="#9a9a9a"/>
<rect x="381.1" y="232.4" width="14.699999999999989" height="6.2" rx="1" fill="#9a9a9a"/>
<rect x="401.6" y="232.4" width="10.5" height="6.2" rx="1" fill="#9a9a9a"/>
<rect x="419" y="232.4" width="11" height="6.2" rx="1" fill="#9a9a9a"/>
<path d="M384.5,234.5 L385.5,235.5 L384.5,236.5 M390.7,234.5 L391.7,235.5 L390.7,236.5 M396.9,234.5 L397.9,235.5 L396.9,236.5 M403.1,234.5 L404.1,235.5 L403.1,236.5 M409.3,234.5 L410.3,235.5 L409.3,236.5 M415.5,234.5 L416.5,235.5 L415.5,236.5 M421.7,234.5 L422.7,235.5 L421.7,236.5 M427.9,234.5 L428.9,235.5 L427.9,236.5 M434.1,234.5 L435.1,235.5 L434.1,236.5 " stroke="#e4e4e4" stroke-width="0.5" fill="none"/>
<rect x="508" y="233.5" width="149.79999999999995" height="4.0" fill="#9a9a9a"/>
<rect x="508" y="232.4" width="12.399999999999977" height="6.2" rx="1" fill="#9a9a9a"/>
<rect x="527.7" y="232.4" width="14.599999999999909" height="6.2" rx="1" fill="#9a9a9a"/>
<rect x="549.6" y="232.4" width="14.600000000000023" height="6.2" rx="1" fill="#9a9a9a"/>
<rect x="565.5" y="232.4" width="6.0" height="6.2" rx="1" fill="#9a9a9a"/>
<rect x="573" y="232.4" width="84.79999999999995" height="6.2" rx="1" fill="#9a9a9a"/>
<path d="M511.4,234.5 L512.4,235.5 L511.4,236.5 M517.6,234.5 L518.6,235.5 L517.6,236.5 M523.8,234.5 L524.8,235.5 L523.8,236.5 M530.0,234.5 L531.0,235.5 L530.0,236.5 M536.2,234.5 L537.2,235.5 L536.2,236.5 M542.4,234.5 L543.4,235.5 L542.4,236.5 M548.6,234.5 L549.6,235.5 L548.6,236.5 M554.8,234.5 L555.8,235.5 L554.8,236.5 M561.0,234.5 L562.0,235.5 L561.0,236.5 M567.2,234.5 L568.2,235.5 L567.2,236.5 M573.4,234.5 L574.4,235.5 L573.4,236.5 M579.6,234.5 L580.6,235.5 L579.6,236.5 M585.8,234.5 L586.8,235.5 L585.8,236.5 M592.0,234.5 L593.0,235.5 L592.0,236.5 M598.2,234.5 L599.2,235.5 L598.2,236.5 M604.4,234.5 L605.4,235.5 L604.4,236.5 M610.6,234.5 L611.6,235.5 L610.6,236.5 M616.8,234.5 L617.8,235.5 L616.8,236.5 M623.0,234.5 L624.0,235.5 L623.0,236.5 M629.2,234.5 L630.2,235.5 L629.2,236.5 M635.4,234.5 L636.4,235.5 L635.4,236.5 M641.6,234.5 L642.6,235.5 L641.6,236.5 M647.8,234.5 L648.8,235.5 L647.8,236.5 M654.0,234.5 L655.0,235.5 L654.0,236.5 " stroke="#e4e4e4" stroke-width="0.5" fill="none"/>
<text x="343.8" y="260.8" font-size="6.5" fill="#111" text-anchor="start" >Control</text>
<text x="347.0" y="287.9" font-size="6.5" fill="#8a86e6" text-anchor="start" >WC-2C</text>
<text x="342.3" y="315.0" font-size="8.2" fill="#f47f86" text-anchor="start" >RNA</text>
<text x="362.9" y="314.2" font-size="5.0" fill="#f7c25e" text-anchor="start" >Light</text>
<text x="342.3" y="334.0" font-size="8.2" fill="#f47f86" text-anchor="start" >RNA</text>
<text x="363.6" y="333.1" font-size="5.0" fill="#3b5ba3" text-anchor="start" >Dark</text>
<text x="374.1" y="251.9" font-size="3.6" fill="#111" text-anchor="start" >10</text>
<text x="374.1" y="268.8" font-size="3.6" fill="#111" text-anchor="start" >10</text>
<text x="374.1" y="306.7" font-size="3.6" fill="#111" text-anchor="start" >700</text>
<text x="374.1" y="325.3" font-size="3.6" fill="#111" text-anchor="start" >700</text>
<path d="M374,301.4 H664" stroke="#f2f2f2" stroke-width="0.6"/>
<path d="M374.2,264.4 H664" stroke="#222" stroke-width="0.85"/>
<path d="M482,264.4 H503 M420,264.4 H432 M528,264.4 H540 M556,264.4 H572 M604,264.4 H614" stroke="#9a9a9a" stroke-width="0.9"/>
<path d="M428,264.3 v-1 M445,264.3 v-0.8 M502,264.3 v-0.6 M520,264.3 v-0.6" stroke="#222" stroke-width="0.6"/>
<path d="M374.2,282.6 L374.2,282.23 L374.8,282.08 L375.4,282.17 L376.0,282.05 L376.6,282.04 L377.2,282.30 L377.8,282.30 L378.4,281.93 L379.0,282.22 L379.6,282.23 L380.2,281.85 L380.8,282.11 L381.4,281.93 L382.0,282.11 L382.6,282.03 L383.2,282.27 L383.8,282.03 L384.4,281.91 L385.0,282.07 L385.6,281.95 L386.2,281.96 L386.8,282.23 L387.4,281.83 L388.0,281.84 L388.6,281.90 L389.2,281.93 L389.8,281.39 L390.4,281.46 L391.0,281.21 L391.6,281.03 L392.2,281.03 L392.8,280.89 L393.4,281.16 L394.0,281.01 L394.6,281.28 L395.2,281.14 L395.8,281.30 L396.4,281.82 L397.0,281.91 L397.6,281.97 L398.2,281.68 L398.8,282.01 L399.4,281.95 L400.0,282.14 L400.6,282.05 L401.2,282.11 L401.8,282.11 L402.4,281.97 L403.0,281.93 L403.6,281.72 L404.2,281.77 L404.8,281.57 L405.4,281.53 L406.0,281.39 L406.6,281.48 L407.2,281.69 L407.8,281.32 L408.4,281.27 L409.0,281.33 L409.6,281.55 L410.2,281.55 L410.8,281.88 L411.4,281.64 L412.0,281.84 L412.6,282.05 L413.2,282.21 L413.8,281.85 L414.4,281.81 L415.0,282.28 L415.6,281.93 L416.2,282.14 L416.8,282.27 L417.4,282.20 L418.0,281.96 L418.6,281.91 L419.2,282.30 L419.8,282.04 L420.4,282.30 L421.0,281.99 L421.6,282.18 L422.2,281.89 L422.8,281.83 L423.4,282.05 L424.0,281.77 L424.6,282.07 L425.2,282.11 L425.8,281.75 L426.4,281.89 L427.0,281.64 L427.6,281.31 L428.2,280.96 L428.8,280.90 L429.4,280.66 L430.0,279.96 L430.6,279.98 L431.2,279.45 L431.8,279.35 L432.4,279.56 L433.0,279.57 L433.6,279.67 L434.2,279.81 L434.8,280.10 L435.4,280.40 L436.0,280.67 L436.6,280.79 L437.2,281.26 L437.8,281.52 L438.4,281.55 L439.0,281.93 L439.6,282.00 L440.2,281.73 L440.8,282.01 L441.4,282.02 L442.0,282.30 L442.6,282.11 L443.2,282.02 L443.8,282.28 L444.4,281.95 L445.0,281.91 L445.6,282.14 L446.2,281.79 L446.8,281.79 L447.4,281.61 L448.0,281.69 L448.6,281.44 L449.2,281.37 L449.8,281.69 L450.4,281.66 L451.0,281.36 L451.6,281.23 L452.2,281.61 L452.8,281.53 L453.4,281.47 L454.0,281.60 L454.6,281.54 L455.2,281.52 L455.8,281.41 L456.4,281.21 L457.0,281.25 L457.6,281.11 L458.2,280.81 L458.8,281.09 L459.4,280.75 L460.0,280.61 L460.6,280.80 L461.2,280.84 L461.8,280.58 L462.4,280.92 L463.0,281.02 L463.6,280.99 L464.2,280.97 L464.8,281.38 L465.4,281.39 L466.0,281.50 L466.6,281.37 L467.2,281.67 L467.8,281.55 L468.4,281.97 L469.0,281.96 L469.6,281.85 L470.2,281.46 L470.8,281.34 L471.4,281.23 L472.0,281.11 L472.6,280.99 L473.2,280.88 L473.8,280.75 L474.4,280.61 L475.0,280.46 L475.6,280.31 L476.2,280.17 L476.8,280.02 L477.4,279.86 L478.0,279.63 L478.6,279.41 L479.2,279.18 L479.8,278.95 L480.4,278.52 L481.0,277.67 L481.6,276.83 L482.2,275.98 L482.8,275.03 L483.4,274.02 L484.0,273.01 L484.6,272.00 L485.2,271.32 L485.8,270.64 L486.4,269.95 L487.0,269.38 L487.6,269.01 L488.2,268.64 L488.8,268.57 L489.4,269.07 L490.0,269.57 L490.6,270.29 L491.2,271.45 L491.8,272.61 L492.4,273.46 L493.0,274.25 L493.6,275.04 L494.2,275.80 L494.8,276.40 L495.4,277.00 L496.0,277.60 L496.6,277.93 L497.2,277.99 L497.8,278.06 L498.4,278.12 L499.0,278.18 L499.6,278.35 L500.2,278.58 L500.8,278.81 L501.4,279.03 L502.0,279.26 L502.6,279.43 L503.2,279.58 L503.8,279.73 L504.4,279.88 L505.0,280.03 L505.6,280.18 L506.2,280.33 L506.8,280.53 L507.4,280.78 L508.0,281.03 L508.6,281.28 L509.2,281.53 L509.8,281.78 L510.4,281.93 L511.0,282.00 L511.6,282.06 L512.2,282.13 L512.8,282.19 L513.4,282.26 L514.0,281.91 L514.6,282.12 L515.2,282.24 L515.8,282.29 L516.4,282.08 L517.0,282.25 L517.6,281.95 L518.2,281.93 L518.8,282.26 L519.4,282.21 L520.0,281.94 L520.6,282.02 L521.2,281.93 L521.8,282.15 L522.4,282.25 L523.0,282.16 L523.6,281.88 L524.2,282.12 L524.8,282.04 L525.4,281.96 L526.0,281.90 L526.6,281.84 L527.2,281.50 L527.8,281.79 L528.4,281.76 L529.0,281.18 L529.6,281.09 L530.2,280.92 L530.8,281.08 L531.4,280.71 L532.0,280.63 L532.6,280.91 L533.2,280.60 L533.8,280.53 L534.4,280.62 L535.0,280.73 L535.6,280.90 L536.2,280.96 L536.8,281.11 L537.4,281.30 L538.0,281.16 L538.6,281.43 L539.2,281.28 L539.8,281.78 L540.4,281.45 L541.0,281.64 L541.6,281.60 L542.2,281.68 L542.8,281.73 L543.4,281.92 L544.0,282.22 L544.6,281.85 L545.2,282.12 L545.8,282.02 L546.4,281.79 L547.0,281.78 L547.6,281.75 L548.2,281.39 L548.8,281.45 L549.4,281.50 L550.0,281.47 L550.6,281.13 L551.2,281.31 L551.8,281.19 L552.4,281.47 L553.0,281.63 L553.6,281.56 L554.2,281.52 L554.8,281.94 L555.4,281.71 L556.0,281.72 L556.6,281.83 L557.2,281.86 L557.8,282.29 L558.4,281.99 L559.0,281.88 L559.6,282.28 L560.2,282.16 L560.8,282.15 L561.4,281.99 L562.0,282.01 L562.6,281.94 L563.2,281.74 L563.8,282.06 L564.4,281.96 L565.0,281.83 L565.6,281.72 L566.2,281.62 L566.8,281.03 L567.4,280.94 L568.0,281.16 L568.6,280.78 L569.2,280.69 L569.8,280.52 L570.4,280.33 L571.0,280.03 L571.6,279.92 L572.2,279.92 L572.8,279.92 L573.4,279.80 L574.0,279.89 L574.6,279.69 L575.2,279.66 L575.8,279.91 L576.4,280.18 L577.0,280.26 L577.6,280.32 L578.2,280.37 L578.8,280.45 L579.4,280.83 L580.0,280.78 L580.6,281.02 L581.2,281.26 L581.8,281.40 L582.4,281.43 L583.0,281.40 L583.6,281.58 L584.2,281.46 L584.8,281.56 L585.4,281.63 L586.0,281.43 L586.6,281.28 L587.2,281.51 L587.8,281.26 L588.4,281.20 L589.0,280.93 L589.6,280.87 L590.2,281.15 L590.8,280.92 L591.4,281.02 L592.0,281.36 L592.6,281.35 L593.2,281.62 L593.8,281.38 L594.4,281.56 L595.0,281.54 L595.6,281.67 L596.2,281.80 L596.8,281.83 L597.4,281.96 L598.0,282.22 L598.6,282.00 L599.2,282.30 L599.8,282.26 L600.4,281.95 L601.0,282.30 L601.6,282.30 L602.2,282.30 L602.8,281.91 L603.4,282.26 L604.0,282.30 L604.6,281.93 L605.2,282.28 L605.8,281.92 L606.4,281.99 L607.0,281.89 L607.6,281.81 L608.2,281.96 L608.8,281.80 L609.4,282.12 L610.0,281.67 L610.6,281.71 L611.2,281.50 L611.8,281.71 L612.4,281.29 L613.0,281.13 L613.6,281.53 L614.2,281.39 L614.8,281.30 L615.4,281.23 L616.0,281.61 L616.6,281.74 L617.2,281.80 L617.8,281.72 L618.4,281.73 L619.0,281.99 L619.6,282.05 L620.2,282.08 L620.8,282.13 L621.4,282.11 L622.0,282.29 L622.6,282.09 L623.2,281.85 L623.8,282.12 L624.4,281.95 L625.0,282.22 L625.6,281.93 L626.2,281.87 L626.8,281.86 L627.4,281.88 L628.0,281.82 L628.6,281.65 L629.2,281.42 L629.8,281.68 L630.4,281.59 L631.0,281.14 L631.6,280.94 L632.2,281.04 L632.8,281.00 L633.4,280.81 L634.0,281.06 L634.6,281.03 L635.2,281.12 L635.8,281.00 L636.4,281.24 L637.0,281.40 L637.6,281.29 L638.2,281.28 L638.8,281.72 L639.4,281.62 L640.0,281.86 L640.6,281.71 L641.2,281.90 L641.8,282.11 L642.4,282.16 L643.0,282.28 L643.6,282.06 L644.2,282.11 L644.8,282.20 L645.4,282.08 L646.0,282.06 L646.6,281.78 L647.2,282.03 L647.8,281.51 L648.4,281.65 L649.0,281.46 L649.6,281.38 L650.2,281.03 L650.8,280.88 L651.4,280.85 L652.0,280.75 L652.6,280.51 L653.2,280.36 L653.8,280.55 L654.4,280.39 L655.0,280.33 L655.6,280.67 L656.2,280.92 L656.8,281.06 L657.4,280.98 L658.0,281.17 L658.6,281.18 L659.2,281.38 L659.8,281.81 L660.4,281.94 L661.0,282.00 L661.6,282.10 L662.2,281.89 L662.8,281.85 L663.4,281.85 L664,282.6 Z" fill="#8a86e0"/>
<path d="M374.2,282.6 H664" stroke="#8480e0" stroke-width="0.8"/>
<rect x="482.0" y="286.7" width="17.9" height="4.3" fill="#9a98e2"/>
<rect x="487.9" y="286.7" width="1.2" height="4.3" fill="#22d4ee"/>
<path d="M507.92,320.6 V314.01 H510.84 V320.6 Z M510.84,320.6 V312.03 H514.34 V320.6 Z M514.34,320.6 V310.16 H517.26 V320.6 Z M517.26,320.6 V307.82 H520.18 V320.6 Z M520.18,320.6 V314.01 H523.10 V320.6 Z M523.10,320.6 V316.93 H526.02 V320.6 Z M526.02,320.6 V312.03 H528.94 V320.6 Z M528.94,320.6 V311.09 H531.86 V320.6 Z M531.86,320.6 V310.28 H534.78 V320.6 Z M534.78,320.6 V311.09 H538.28 V320.6 Z M538.28,320.6 V310.16 H541.20 V320.6 Z M541.20,320.6 V311.68 H544.12 V320.6 Z M544.12,320.6 V310.16 H547.04 V320.6 Z M549.96,320.6 V309.34 H552.88 V320.6 Z M552.88,320.6 V309.93 H556.39 V320.6 Z M556.39,320.6 V310.51 H559.31 V320.6 Z M559.31,320.6 V311.09 H562.23 V320.6 Z M562.23,320.6 V312.85 H564.56 V320.6 Z M564.56,320.6 V311.09 H568.07 V320.6 Z M568.07,320.6 V310.51 H570.99 V320.6 Z M570.99,320.6 V311.33 H573.91 V320.6 Z M573.91,320.6 V309.11 H576.82 V320.6 Z M576.82,320.6 V308.41 H585.00 V320.6 Z M585.00,320.6 V308.24 H587.92 V320.6 Z M587.92,320.6 V307.93 H590.84 V320.6 Z M590.84,320.6 V307.62 H593.76 V320.6 Z M593.76,320.6 V307.31 H596.68 V320.6 Z M596.68,320.6 V307.02 H599.60 V320.6 Z M599.60,320.6 V306.65 H602.52 V320.6 Z M602.52,320.6 V306.23 H605.44 V320.6 Z M605.44,320.6 V306.20 H608.36 V320.6 Z M608.36,320.6 V306.20 H611.28 V320.6 Z M611.28,320.6 V306.20 H614.20 V320.6 Z M614.20,320.6 V306.20 H617.12 V320.6 Z M617.12,320.6 V306.20 H620.04 V320.6 Z M620.04,320.6 V306.20 H622.96 V320.6 Z M622.96,320.6 V306.20 H625.88 V320.6 Z M625.88,320.6 V306.20 H628.80 V320.6 Z M628.80,320.6 V306.20 H631.72 V320.6 Z M631.72,320.6 V306.20 H634.64 V320.6 Z M634.64,320.6 V306.20 H637.56 V320.6 Z M637.56,320.6 V306.57 H640.48 V320.6 Z M640.48,320.6 V307.60 H643.40 V320.6 Z M643.40,320.6 V308.50 H646.32 V320.6 Z M646.32,320.6 V309.99 H649.24 V320.6 Z M649.24,320.6 V311.70 H652.16 V320.6 Z M652.16,320.6 V314.71 H655.08 V320.6 Z M655.08,320.6 V317.54 H658.00 V320.6 Z " fill="#fc9a9a"/>
<path d="M374.2,320.5 H664" stroke="#f8a8a8" stroke-width="0.7"/>
<path d="M374.2,339.6 H664" stroke="#f8b4b4" stroke-width="0.7"/>
<rect x="634" y="342.2" width="30" height="2.5" fill="#000"/>
<text x="11.76" y="362.55" font-size="16.3" fill="#111" text-anchor="start" >e</text>
<path d="M54.3,369.4 V450.4 M54.3,462.1 V595.7" stroke="#333" stroke-width="1" fill="none"/>
<path d="M47.4,369.4 H54.3 M47.4,410.0 H54.3 M51,450.4 H58.1 M51,462.1 H58.1 M48.8,495.2 H54.3 M48.8,528.7 H54.3 M48.8,562.2 H54.3" stroke="#333" stroke-width="1" fill="none"/>
<path d="M53.8,595.7 H453" stroke="#555" stroke-width="1.4" fill="none"/>
<text x="46.1" y="373.0" font-size="10" fill="#111" text-anchor="end" >60</text>
<text x="46.1" y="413.6" font-size="10" fill="#111" text-anchor="end" >50</text>
<text x="47.7" y="453.7" font-size="10" fill="#111" text-anchor="end" >40</text>
<text x="47.7" y="465.4" font-size="10" fill="#111" text-anchor="end" >20</text>
<text x="47.7" y="498.70000000000005" font-size="10" fill="#111" text-anchor="end" >15</text>
<text x="47.7" y="532.2" font-size="10" fill="#111" text-anchor="end" >10</text>
<text x="47.7" y="565.7" font-size="10" fill="#111" text-anchor="end" >5</text>
<text x="47.7" y="599.2" font-size="10" fill="#111" text-anchor="end" >0</text>
<text transform="translate(28.1,528.8) rotate(-90)" font-size="10.7" fill="#111">Relative expression</text>
<text x="77.4" y="398.8" font-size="8.4" fill="#111" text-anchor="middle" >1927246</text>
<rect x="59.2" y="401.3" width="37.5" height="2.2" fill="#7b72e0"/>
<rect x="57.9" y="589.0" width="7.2" height="6.7" fill="#56659b"/>
<path d="M61.5,589.0 V586.7" stroke="#999" stroke-width="0.9"/>
<circle cx="61.5" cy="586.7" r="1.9" fill="#fff" fill-opacity="0.6" stroke="#8a8a8a" stroke-width="0.7"/>
<circle cx="60.3" cy="590.4" r="1.9" fill="none" fill-opacity="0.6" stroke="#8a8a8a" stroke-width="0.7"/>
<circle cx="62.7" cy="590.2" r="1.9" fill="none" fill-opacity="0.6" stroke="#8a8a8a" stroke-width="0.7"/>
<rect x="68.8" y="432.2" width="7.2" height="18.2" fill="#f1b93d"/>
<rect x="68.8" y="462.1" width="7.2" height="133.6" fill="#f1b93d"/>
<path d="M72.4,432.2 V416.0" stroke="#999" stroke-width="0.9"/>
<circle cx="72.4" cy="416.0" r="1.9" fill="none" stroke="#8a8a8a" stroke-width="0.7"/>
<circle cx="72.4" cy="430.1" r="1.9" fill="none" stroke="#8a8a8a" stroke-width="0.7"/>
<circle cx="72.4" cy="448.8" r="1.9" fill="none" stroke="#8a8a8a" stroke-width="0.7"/>
<circle cx="72.4" cy="416.0" r="1.9" fill="#fff" stroke="#8a8a8a" stroke-width="0.7"/>
<rect x="79.6" y="540.8" width="7.2" height="54.9" fill="#56659b"/>
<path d="M83.2,540.8 V522.6" stroke="#999" stroke-width="0.9"/>
<circle cx="83.2" cy="522.6" r="1.9" fill="#fff" fill-opacity="0.6" stroke="#8a8a8a" stroke-width="0.7"/>
<circle cx="83.2" cy="547.2" r="1.9" fill="none" fill-opacity="0.6" stroke="#8a8a8a" stroke-width="0.7"/>
<circle cx="83.2" cy="552.4" r="1.9" fill="none" fill-opacity="0.6" stroke="#8a8a8a" stroke-width="0.7"/>
<rect x="90.3" y="548.8" width="7.2" height="46.9" fill="#f1b93d"/>
<path d="M93.9,548.8 V539.7" stroke="#999" stroke-width="0.9"/>
<circle cx="93.9" cy="539.7" r="1.9" fill="#fff" fill-opacity="0.6" stroke="#8a8a8a" stroke-width="0.7"/>
<circle cx="92.6" cy="553.4" r="1.9" fill="none" fill-opacity="0.6" stroke="#8a8a8a" stroke-width="0.7"/>
<circle cx="95.4" cy="550.0" r="1.9" fill="none" fill-opacity="0.6" stroke="#8a8a8a" stroke-width="0.7"/>
<text transform="translate(60.6,609.4) rotate(-34)" font-size="8.3" fill="#111">WT</text>
<text transform="translate(72.0,618.6) rotate(-34)" font-size="8.1" font-style="italic" fill="#111">wc-2cΔ</text>
<text x="127.6" y="398.8" font-size="8.4" fill="#111" text-anchor="middle" >1878327</text>
<rect x="109.4" y="401.3" width="37.5" height="2.2" fill="#7b72e0"/>
<rect x="108.1" y="589.0" width="7.2" height="6.7" fill="#56659b"/>
<path d="M111.7,589.0 V587.7" stroke="#999" stroke-width="0.9"/>
<circle cx="111.7" cy="587.7" r="1.9" fill="#fff" fill-opacity="0.6" stroke="#8a8a8a" stroke-width="0.7"/>
<circle cx="110.5" cy="589.8" r="1.9" fill="none" fill-opacity="0.6" stroke="#8a8a8a" stroke-width="0.7"/>
<circle cx="112.9" cy="589.7" r="1.9" fill="none" fill-opacity="0.6" stroke="#8a8a8a" stroke-width="0.7"/>
<rect x="119.0" y="554.2" width="7.2" height="41.5" fill="#f1b93d"/>
<path d="M122.6,554.2 V553.2" stroke="#999" stroke-width="0.9"/>
<circle cx="122.6" cy="553.2" r="1.9" fill="#fff" fill-opacity="0.6" stroke="#8a8a8a" stroke-width="0.7"/>
<circle cx="121.4" cy="554.8" r="1.9" fill="none" fill-opacity="0.6" stroke="#8a8a8a" stroke-width="0.7"/>
<circle cx="123.8" cy="554.7" r="1.9" fill="none" fill-opacity="0.6" stroke="#8a8a8a" stroke-width="0.7"/>
<rect x="129.8" y="587.0" width="7.2" height="8.7" fill="#56659b"/>
<path d="M133.4,587.0 V584.6" stroke="#999" stroke-width="0.9"/>
<circle cx="133.4" cy="584.6" r="1.9" fill="#fff" fill-opacity="0.6" stroke="#8a8a8a" stroke-width="0.7"/>
<circle cx="132.2" cy="588.4" r="1.9" fill="none" fill-opacity="0.6" stroke="#8a8a8a" stroke-width="0.7"/>
<circle cx="134.6" cy="588.2" r="1.9" fill="none" fill-opacity="0.6" stroke="#8a8a8a" stroke-width="0.7"/>
<rect x="140.5" y="583.6" width="7.2" height="12.1" fill="#f1b93d"/>
<path d="M144.1,583.6 V582.0" stroke="#999" stroke-width="0.9"/>
<circle cx="144.1" cy="582.0" r="1.9" fill="#fff" fill-opacity="0.6" stroke="#8a8a8a" stroke-width="0.7"/>
<circle cx="142.9" cy="584.6" r="1.9" fill="none" fill-opacity="0.6" stroke="#8a8a8a" stroke-width="0.7"/>
<circle cx="145.3" cy="584.5" r="1.9" fill="none" fill-opacity="0.6" stroke="#8a8a8a" stroke-width="0.7"/>
<text transform="translate(110.8,609.4) rotate(-34)" font-size="8.3" fill="#111">WT</text>
<text transform="translate(122.2,618.6) rotate(-34)" font-size="8.1" font-style="italic" fill="#111">wc-2cΔ</text>
<text x="177.8" y="398.8" font-size="8.4" fill="#111" text-anchor="middle" >1922031</text>
<rect x="159.6" y="401.3" width="37.5" height="2.2" fill="#7b72e0"/>
<rect x="158.3" y="585.7" width="7.2" height="10.0" fill="#56659b"/>
<path d="M161.9,585.7 V584.3" stroke="#999" stroke-width="0.9"/>
<circle cx="161.9" cy="584.3" r="1.9" fill="#fff" fill-opacity="0.6" stroke="#8a8a8a" stroke-width="0.7"/>
<circle cx="160.7" cy="586.5" r="1.9" fill="none" fill-opacity="0.6" stroke="#8a8a8a" stroke-width="0.7"/>
<circle cx="163.1" cy="586.3" r="1.9" fill="none" fill-opacity="0.6" stroke="#8a8a8a" stroke-width="0.7"/>
<rect x="169.2" y="479.8" width="7.2" height="115.9" fill="#f1b93d"/>
<path d="M172.8,479.8 V471.0" stroke="#999" stroke-width="0.9"/>
<circle cx="173.0" cy="471.0" r="1.9" fill="#fff" fill-opacity="0.6" stroke="#8a8a8a" stroke-width="0.7"/>
<circle cx="174.0" cy="477.0" r="1.9" fill="#fff" fill-opacity="0.6" stroke="#8a8a8a" stroke-width="0.7"/>
<circle cx="171.2" cy="480.5" r="1.9" fill="none" fill-opacity="0.6" stroke="#8a8a8a" stroke-width="0.7"/>
<rect x="180.0" y="579.6" width="7.2" height="16.1" fill="#56659b"/>
<path d="M183.6,579.6 V578.3" stroke="#999" stroke-width="0.9"/>
<circle cx="183.6" cy="578.3" r="1.9" fill="#fff" fill-opacity="0.6" stroke="#8a8a8a" stroke-width="0.7"/>
<circle cx="182.4" cy="580.4" r="1.9" fill="none" fill-opacity="0.6" stroke="#8a8a8a" stroke-width="0.7"/>
<circle cx="184.8" cy="580.3" r="1.9" fill="none" fill-opacity="0.6" stroke="#8a8a8a" stroke-width="0.7"/>
<rect x="190.7" y="587.7" width="7.2" height="8.0" fill="#f1b93d"/>
<path d="M194.3,587.7 V585.7" stroke="#999" stroke-width="0.9"/>
<circle cx="194.3" cy="585.7" r="1.9" fill="#fff" fill-opacity="0.6" stroke="#8a8a8a" stroke-width="0.7"/>
<circle cx="193.1" cy="588.9" r="1.9" fill="none" fill-opacity="0.6" stroke="#8a8a8a" stroke-width="0.7"/>
<circle cx="195.5" cy="588.7" r="1.9" fill="none" fill-opacity="0.6" stroke="#8a8a8a" stroke-width="0.7"/>
<text transform="translate(161.0,609.4) rotate(-34)" font-size="8.3" fill="#111">WT</text>
<text transform="translate(172.4,618.6) rotate(-34)" font-size="8.1" font-style="italic" fill="#111">wc-2cΔ</text>
<text x="228.00000000000003" y="398.8" font-size="8.4" fill="#111" text-anchor="middle" >1888704</text>
<rect x="209.8" y="401.3" width="37.5" height="2.2" fill="#7b72e0"/>
<rect x="208.5" y="589.0" width="7.2" height="6.7" fill="#56659b"/>
<path d="M212.1,589.0 V588.0" stroke="#999" stroke-width="0.9"/>
<circle cx="212.1" cy="588.0" r="1.9" fill="#fff" fill-opacity="0.6" stroke="#8a8a8a" stroke-width="0.7"/>
<circle cx="210.9" cy="589.6" r="1.9" fill="none" fill-opacity="0.6" stroke="#8a8a8a" stroke-width="0.7"/>
<circle cx="213.3" cy="589.5" r="1.9" fill="none" fill-opacity="0.6" stroke="#8a8a8a" stroke-width="0.7"/>
<rect x="219.4" y="572.2" width="7.2" height="23.5" fill="#f1b93d"/>
<path d="M223.0,572.2 V570.9" stroke="#999" stroke-width="0.9"/>
<circle cx="223.0" cy="570.9" r="1.9" fill="#fff" fill-opacity="0.6" stroke="#8a8a8a" stroke-width="0.7"/>
<circle cx="221.8" cy="573.1" r="1.9" fill="none" fill-opacity="0.6" stroke="#8a8a8a" stroke-width="0.7"/>
<circle cx="224.2" cy="572.9" r="1.9" fill="none" fill-opacity="0.6" stroke="#8a8a8a" stroke-width="0.7"/>
<rect x="230.2" y="593.0" width="7.2" height="2.7" fill="#56659b"/>
<path d="M233.8,593.0 V592.0" stroke="#999" stroke-width="0.9"/>
<circle cx="233.8" cy="592.0" r="1.9" fill="#fff" fill-opacity="0.6" stroke="#8a8a8a" stroke-width="0.7"/>
<circle cx="232.6" cy="593.6" r="1.9" fill="none" fill-opacity="0.6" stroke="#8a8a8a" stroke-width="0.7"/>
<circle cx="235.0" cy="593.5" r="1.9" fill="none" fill-opacity="0.6" stroke="#8a8a8a" stroke-width="0.7"/>
<rect x="240.9" y="591.3" width="7.2" height="4.4" fill="#f1b93d"/>
<path d="M244.5,591.3 V590.0" stroke="#999" stroke-width="0.9"/>
<circle cx="244.5" cy="590.0" r="1.9" fill="#fff" fill-opacity="0.6" stroke="#8a8a8a" stroke-width="0.7"/>
<circle cx="243.3" cy="592.1" r="1.9" fill="none" fill-opacity="0.6" stroke="#8a8a8a" stroke-width="0.7"/>
<circle cx="245.7" cy="592.0" r="1.9" fill="none" fill-opacity="0.6" stroke="#8a8a8a" stroke-width="0.7"/>
<text transform="translate(211.2,609.4) rotate(-34)" font-size="8.3" fill="#111">WT</text>
<text transform="translate(222.6,618.6) rotate(-34)" font-size="8.1" font-style="italic" fill="#111">wc-2cΔ</text>
<text x="278.2" y="398.8" font-size="8.4" fill="#111" text-anchor="middle" >1897083</text>
<rect x="260.0" y="401.3" width="37.5" height="2.2" fill="#7b72e0"/>
<rect x="258.7" y="589.0" width="7.2" height="6.7" fill="#56659b"/>
<path d="M262.3,589.0 V588.0" stroke="#999" stroke-width="0.9"/>
<circle cx="262.3" cy="588.0" r="1.9" fill="#fff" fill-opacity="0.6" stroke="#8a8a8a" stroke-width="0.7"/>
<circle cx="261.1" cy="589.6" r="1.9" fill="none" fill-opacity="0.6" stroke="#8a8a8a" stroke-width="0.7"/>
<circle cx="263.5" cy="589.5" r="1.9" fill="none" fill-opacity="0.6" stroke="#8a8a8a" stroke-width="0.7"/>
<rect x="269.6" y="557.5" width="7.2" height="38.2" fill="#f1b93d"/>
<path d="M273.2,557.5 V556.2" stroke="#999" stroke-width="0.9"/>
<circle cx="273.2" cy="556.2" r="1.9" fill="#fff" fill-opacity="0.6" stroke="#8a8a8a" stroke-width="0.7"/>
<circle cx="272.0" cy="558.3" r="1.9" fill="none" fill-opacity="0.6" stroke="#8a8a8a" stroke-width="0.7"/>
<circle cx="274.4" cy="558.2" r="1.9" fill="none" fill-opacity="0.6" stroke="#8a8a8a" stroke-width="0.7"/>
<rect x="280.4" y="595.0" width="7.2" height="0.7" fill="#56659b"/>
<circle cx="284.0" cy="594.7" r="1.9" fill="#fff" fill-opacity="0.6" stroke="#8a8a8a" stroke-width="0.7"/>
<circle cx="282.8" cy="595.2" r="1.9" fill="none" fill-opacity="0.6" stroke="#8a8a8a" stroke-width="0.7"/>
<circle cx="285.2" cy="595.2" r="1.9" fill="none" fill-opacity="0.6" stroke="#8a8a8a" stroke-width="0.7"/>
<rect x="291.1" y="592.4" width="7.2" height="3.4" fill="#f1b93d"/>
<path d="M294.7,592.4 V591.7" stroke="#999" stroke-width="0.9"/>
<circle cx="294.7" cy="591.7" r="1.9" fill="#fff" fill-opacity="0.6" stroke="#8a8a8a" stroke-width="0.7"/>
<circle cx="293.5" cy="592.8" r="1.9" fill="none" fill-opacity="0.6" stroke="#8a8a8a" stroke-width="0.7"/>
<circle cx="295.9" cy="592.7" r="1.9" fill="none" fill-opacity="0.6" stroke="#8a8a8a" stroke-width="0.7"/>
<text transform="translate(261.4,609.4) rotate(-34)" font-size="8.3" fill="#111">WT</text>
<text transform="translate(272.8,618.6) rotate(-34)" font-size="8.1" font-style="italic" fill="#111">wc-2cΔ</text>
<text x="328.4" y="398.8" font-size="8.4" fill="#111" text-anchor="middle" >1892458</text>
<rect x="310.2" y="401.3" width="37.5" height="2.2" fill="#a8a8a8"/>
<rect x="308.9" y="588.3" width="7.2" height="7.4" fill="#56659b"/>
<path d="M312.5,588.3 V587.0" stroke="#999" stroke-width="0.9"/>
<circle cx="312.5" cy="587.0" r="1.9" fill="#fff" fill-opacity="0.6" stroke="#8a8a8a" stroke-width="0.7"/>
<circle cx="311.3" cy="589.1" r="1.9" fill="none" fill-opacity="0.6" stroke="#8a8a8a" stroke-width="0.7"/>
<circle cx="313.7" cy="589.0" r="1.9" fill="none" fill-opacity="0.6" stroke="#8a8a8a" stroke-width="0.7"/>
<rect x="319.8" y="585.0" width="7.2" height="10.7" fill="#f1b93d"/>
<path d="M323.4,585.0 V583.3" stroke="#999" stroke-width="0.9"/>
<circle cx="322.0" cy="583.3" r="1.9" fill="#fff" fill-opacity="0.6" stroke="#8a8a8a" stroke-width="0.7"/>
<circle cx="325.0" cy="583.3" r="1.9" fill="#fff" fill-opacity="0.6" stroke="#8a8a8a" stroke-width="0.7"/>
<circle cx="323.2" cy="588.0" r="1.9" fill="none" fill-opacity="0.6" stroke="#8a8a8a" stroke-width="0.7"/>
<rect x="330.6" y="589.0" width="7.2" height="6.7" fill="#56659b"/>
<path d="M334.2,589.0 V587.0" stroke="#999" stroke-width="0.9"/>
<circle cx="334.2" cy="587.0" r="1.9" fill="#fff" fill-opacity="0.6" stroke="#8a8a8a" stroke-width="0.7"/>
<circle cx="333.0" cy="590.2" r="1.9" fill="none" fill-opacity="0.6" stroke="#8a8a8a" stroke-width="0.7"/>
<circle cx="335.4" cy="590.0" r="1.9" fill="none" fill-opacity="0.6" stroke="#8a8a8a" stroke-width="0.7"/>
<rect x="341.3" y="567.6" width="7.2" height="28.1" fill="#f1b93d"/>
<path d="M344.9,567.6 V565.1" stroke="#999" stroke-width="0.9"/>
<circle cx="344.4" cy="565.1" r="1.9" fill="#fff" fill-opacity="0.6" stroke="#8a8a8a" stroke-width="0.7"/>
<circle cx="345.7" cy="566.8" r="1.9" fill="none" fill-opacity="0.6" stroke="#8a8a8a" stroke-width="0.7"/>
<circle cx="342.9" cy="567.8" r="1.9" fill="none" fill-opacity="0.6" stroke="#8a8a8a" stroke-width="0.7"/>
<text transform="translate(311.6,609.4) rotate(-34)" font-size="8.3" fill="#111">WT</text>
<text transform="translate(323.0,618.6) rotate(-34)" font-size="8.1" font-style="italic" fill="#111">wc-2cΔ</text>
<text x="378.6" y="398.8" font-size="8.4" fill="#111" text-anchor="middle" >1927466</text>
<rect x="360.4" y="401.3" width="37.5" height="2.2" fill="#a8a8a8"/>
<rect x="359.1" y="591.7" width="7.2" height="4.0" fill="#56659b"/>
<path d="M362.7,591.7 V591.0" stroke="#999" stroke-width="0.9"/>
<circle cx="362.7" cy="591.0" r="1.9" fill="#fff" fill-opacity="0.6" stroke="#8a8a8a" stroke-width="0.7"/>
<circle cx="361.5" cy="592.1" r="1.9" fill="none" fill-opacity="0.6" stroke="#8a8a8a" stroke-width="0.7"/>
<circle cx="363.9" cy="592.0" r="1.9" fill="none" fill-opacity="0.6" stroke="#8a8a8a" stroke-width="0.7"/>
<rect x="370.0" y="572.9" width="7.2" height="22.8" fill="#f1b93d"/>
<path d="M373.6,572.9 V564.6" stroke="#999" stroke-width="0.9"/>
<circle cx="373.1" cy="564.6" r="1.9" fill="#fff" fill-opacity="0.6" stroke="#8a8a8a" stroke-width="0.7"/>
<circle cx="373.1" cy="573.1" r="1.9" fill="none" fill-opacity="0.6" stroke="#8a8a8a" stroke-width="0.7"/>
<circle cx="373.1" cy="580.8" r="1.9" fill="none" fill-opacity="0.6" stroke="#8a8a8a" stroke-width="0.7"/>
<rect x="380.8" y="586.3" width="7.2" height="9.4" fill="#56659b"/>
<path d="M384.4,586.3 V584.3" stroke="#999" stroke-width="0.9"/>
<circle cx="384.4" cy="584.3" r="1.9" fill="#fff" fill-opacity="0.6" stroke="#8a8a8a" stroke-width="0.7"/>
<circle cx="383.2" cy="587.5" r="1.9" fill="none" fill-opacity="0.6" stroke="#8a8a8a" stroke-width="0.7"/>
<circle cx="385.6" cy="587.3" r="1.9" fill="none" fill-opacity="0.6" stroke="#8a8a8a" stroke-width="0.7"/>
<rect x="391.5" y="527.4" width="7.2" height="68.3" fill="#f1b93d"/>
<path d="M395.1,527.4 V523.2" stroke="#999" stroke-width="0.9"/>
<circle cx="393.1" cy="523.2" r="1.9" fill="#fff" fill-opacity="0.6" stroke="#8a8a8a" stroke-width="0.7"/>
<circle cx="396.1" cy="526.4" r="1.9" fill="none" fill-opacity="0.6" stroke="#8a8a8a" stroke-width="0.7"/>
<circle cx="393.6" cy="530.2" r="1.9" fill="none" fill-opacity="0.6" stroke="#8a8a8a" stroke-width="0.7"/>
<text transform="translate(361.8,609.4) rotate(-34)" font-size="8.3" fill="#111">WT</text>
<text transform="translate(373.2,618.6) rotate(-34)" font-size="8.1" font-style="italic" fill="#111">wc-2cΔ</text>
<text x="428.8" y="398.8" font-size="8.4" fill="#111" text-anchor="middle" >1913569</text>
<rect x="410.6" y="401.3" width="37.5" height="2.2" fill="#7b72e0"/>
<rect x="409.3" y="589.0" width="7.2" height="6.7" fill="#56659b"/>
<path d="M412.9,589.0 V587.7" stroke="#999" stroke-width="0.9"/>
<circle cx="412.9" cy="587.7" r="1.9" fill="#fff" fill-opacity="0.6" stroke="#8a8a8a" stroke-width="0.7"/>
<circle cx="411.7" cy="589.8" r="1.9" fill="none" fill-opacity="0.6" stroke="#8a8a8a" stroke-width="0.7"/>
<circle cx="414.1" cy="589.7" r="1.9" fill="none" fill-opacity="0.6" stroke="#8a8a8a" stroke-width="0.7"/>
<rect x="420.2" y="570.2" width="7.2" height="25.5" fill="#f1b93d"/>
<path d="M423.8,570.2 V567.8" stroke="#999" stroke-width="0.9"/>
<circle cx="422.8" cy="567.8" r="1.9" fill="#fff" fill-opacity="0.6" stroke="#8a8a8a" stroke-width="0.7"/>
<circle cx="424.8" cy="568.8" r="1.9" fill="#fff" fill-opacity="0.6" stroke="#8a8a8a" stroke-width="0.7"/>
<circle cx="421.8" cy="571.8" r="1.9" fill="none" fill-opacity="0.6" stroke="#8a8a8a" stroke-width="0.7"/>
<rect x="431.0" y="587.7" width="7.2" height="8.0" fill="#56659b"/>
<path d="M434.6,587.7 V586.3" stroke="#999" stroke-width="0.9"/>
<circle cx="434.6" cy="586.3" r="1.9" fill="#fff" fill-opacity="0.6" stroke="#8a8a8a" stroke-width="0.7"/>
<circle cx="433.4" cy="588.5" r="1.9" fill="none" fill-opacity="0.6" stroke="#8a8a8a" stroke-width="0.7"/>
<circle cx="435.8" cy="588.3" r="1.9" fill="none" fill-opacity="0.6" stroke="#8a8a8a" stroke-width="0.7"/>
<rect x="441.7" y="592.0" width="7.2" height="3.7" fill="#f1b93d"/>
<path d="M445.3,592.0 V590.7" stroke="#999" stroke-width="0.9"/>
<circle cx="445.3" cy="590.7" r="1.9" fill="#fff" fill-opacity="0.6" stroke="#8a8a8a" stroke-width="0.7"/>
<circle cx="444.1" cy="592.8" r="1.9" fill="none" fill-opacity="0.6" stroke="#8a8a8a" stroke-width="0.7"/>
<circle cx="446.5" cy="592.7" r="1.9" fill="none" fill-opacity="0.6" stroke="#8a8a8a" stroke-width="0.7"/>
<text transform="translate(412.0,609.4) rotate(-34)" font-size="8.3" fill="#111">WT</text>
<text transform="translate(423.4,618.6) rotate(-34)" font-size="8.1" font-style="italic" fill="#111">wc-2cΔ</text>
<text x="488.1" y="385.6" font-size="16.3" fill="#111" text-anchor="start" >f</text>
<rect x="545.7" y="470.7" width="19.5" height="19.1" fill="#e57050"/>
<rect x="565.2" y="470.7" width="19.4" height="19.1" fill="#f8d8cc"/>
<rect x="584.6" y="470.7" width="19.5" height="19.1" fill="#f6cfc3"/>
<rect x="604.1" y="470.7" width="20.0" height="19.1" fill="#d3d3d3"/>
<rect x="545.7" y="489.8" width="19.5" height="19.4" fill="#f8d2c5"/>
<rect x="565.2" y="489.8" width="19.4" height="19.4" fill="#f2b4a2"/>
<rect x="584.6" y="489.8" width="19.5" height="19.4" fill="#e05428"/>
<rect x="604.1" y="489.8" width="20.0" height="19.4" fill="#fff9f2"/>
<rect x="545.7" y="509.2" width="19.5" height="19.9" fill="#d3d3d3"/>
<rect x="565.2" y="509.2" width="19.4" height="19.9" fill="#d3d3d3"/>
<rect x="584.6" y="509.2" width="19.5" height="19.9" fill="#f2b6a4"/>
<rect x="604.1" y="509.2" width="20.0" height="19.9" fill="#d3d3d3"/>
<rect x="545.7" y="529.1" width="19.5" height="19.6" fill="#f9d8cc"/>
<rect x="565.2" y="529.1" width="19.4" height="19.6" fill="#f8d4c8"/>
<rect x="584.6" y="529.1" width="19.5" height="19.6" fill="#f2bdac"/>
<rect x="604.1" y="529.1" width="20.0" height="19.6" fill="#fffaf3"/>
<rect x="545.7" y="548.7" width="19.5" height="19.7" fill="#d3d3d3"/>
<rect x="565.2" y="548.7" width="19.4" height="19.7" fill="#d3d3d3"/>
<rect x="584.6" y="548.7" width="19.5" height="19.7" fill="#f3bcab"/>
<rect x="604.1" y="548.7" width="20.0" height="19.7" fill="#d3d3d3"/>
<rect x="545.7" y="568.4" width="19.5" height="19.6" fill="#f8d6c9"/>
<rect x="565.2" y="568.4" width="19.4" height="19.6" fill="#e87a5c"/>
<rect x="584.6" y="568.4" width="19.5" height="19.6" fill="#e05628"/>
<rect x="604.1" y="568.4" width="20.0" height="19.6" fill="#ed8f73"/>
<path d="M565.2,470.7 V588.0 M584.6,470.7 V588.0 M604.1,470.7 V588.0 M545.7,489.8 H624.1 M545.7,509.2 H624.1 M545.7,529.1 H624.1 M545.7,548.7 H624.1 M545.7,568.4 H624.1 " stroke="#fff" stroke-width="0.9" fill="none"/>
<rect x="545.7" y="470.7" width="78.4" height="117.3" fill="none" stroke="#8a8a8a" stroke-width="0.9"/>
<text x="541.2" y="484.15" font-size="10.7" fill="#111" text-anchor="end" >1927246</text>
<text x="541.2" y="503.4" font-size="10.7" fill="#111" text-anchor="end" >1878327</text>
<text x="541.2" y="523.05" font-size="10.7" fill="#111" text-anchor="end" >1922031</text>
<text x="541.2" y="542.8000000000001" font-size="10.7" fill="#111" text-anchor="end" >1888704</text>
<text x="541.2" y="562.4499999999999" font-size="10.7" fill="#111" text-anchor="end" >1897083</text>
<text x="541.2" y="582.1" font-size="10.7" fill="#111" text-anchor="end" >1913569</text>
<text transform="translate(558.5,468.0) rotate(-90)" font-size="8.1" font-style="italic" font-weight="bold" fill="#62bca4">Ascomycota</text>
<text transform="translate(578.1,468.0) rotate(-90)" font-size="9.5" font-style="italic" font-weight="bold" fill="#f2a898">Basidiomycota</text>
<text transform="translate(598.3,468.0) rotate(-90)" font-size="9.5" font-style="italic" font-weight="bold" fill="#d8b51c">Mucoromycota</text>
<text transform="translate(617.9,468.0) rotate(-90)" font-size="9.5" font-style="italic" font-weight="bold" fill="#46adc8">Chytridiomycota</text>
<defs><linearGradient id="lg" x1="0" x2="1" y1="0" y2="0"><stop offset="0" stop-color="#fff8f0"/><stop offset="0.5" stop-color="#f2ab92"/><stop offset="1" stop-color="#e0562a"/></linearGradient></defs>
<text x="632.8" y="510.3" font-size="6.8" fill="#111" text-anchor="start" >% of promoters</text>
<rect x="633.1" y="514.0" width="48.7" height="8.6" fill="url(#lg)" stroke="#777" stroke-width="0.7"/>
<path d="M633.1,522.6 v1.6 M681.8,522.6 v1.6" stroke="#777" stroke-width="0.6"/>
<text x="633.0" y="529.8" font-size="6.2" fill="#111" text-anchor="middle" >0</text>
<text x="681.4" y="529.8" font-size="6.2" fill="#111" text-anchor="middle" >60</text>
</svg></body></html>
